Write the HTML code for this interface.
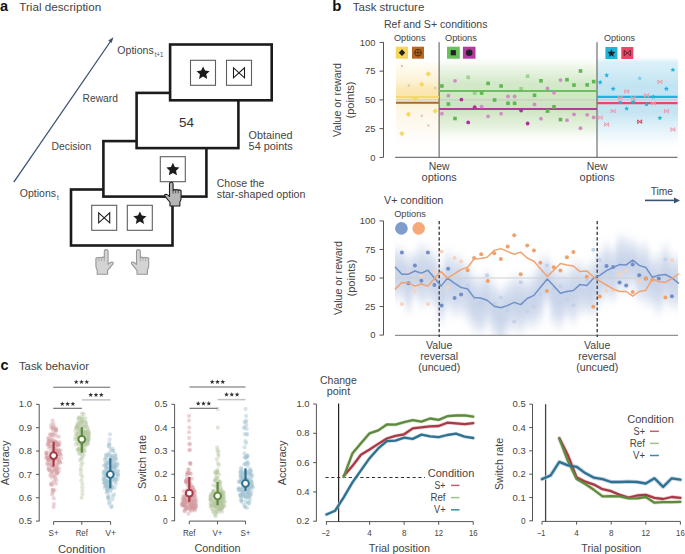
<!DOCTYPE html>
<html><head><meta charset="utf-8"><style>
html,body{margin:0;padding:0;background:#fff;}
svg{display:block;}
text{font-family:"Liberation Sans", sans-serif;}
</style></head><body>
<svg width="685" height="554" viewBox="0 0 685 554">
<rect width="685" height="554" fill="#fff"/>
<text x="0" y="10.9" font-size="14.5" text-anchor="start" fill="#111" font-weight="bold" >a</text>
<text x="19.3" y="10.9" font-size="11.5" text-anchor="start" fill="#444444" font-weight="normal" textLength="81.9" lengthAdjust="spacingAndGlyphs" >Trial description</text>
<line x1="13.8" y1="182.2" x2="110.8" y2="41" stroke="#3b5472" stroke-width="1.3"/>
<polygon points="113.4,37.2 108.2,40.6 111.6,43.0" fill="#3b5472"/>
<text x="117.3" y="54.3" font-size="10.0" text-anchor="start" fill="#444444" font-weight="normal" textLength="36.4" lengthAdjust="spacingAndGlyphs" >Options</text>
<text x="154.8" y="57.0" font-size="6.4" text-anchor="start" fill="#444444" font-weight="normal" textLength="8.4" lengthAdjust="spacingAndGlyphs" >t+1</text>
<text x="82.6" y="102.2" font-size="10.0" text-anchor="start" fill="#444444" font-weight="normal" textLength="35.3" lengthAdjust="spacingAndGlyphs" >Reward</text>
<text x="51.6" y="149.8" font-size="10.0" text-anchor="start" fill="#444444" font-weight="normal" textLength="39.6" lengthAdjust="spacingAndGlyphs" >Decision</text>
<text x="19.8" y="196.9" font-size="10.0" text-anchor="start" fill="#444444" font-weight="normal" textLength="36.2" lengthAdjust="spacingAndGlyphs" >Options</text>
<text x="57.0" y="200.0" font-size="6.3" text-anchor="start" fill="#444444" font-weight="normal" >t</text>
<text x="248.6" y="138.7" font-size="10.0" text-anchor="start" fill="#444444" font-weight="normal" textLength="43.9" lengthAdjust="spacingAndGlyphs" >Obtained</text>
<text x="248.6" y="150.0" font-size="10.0" text-anchor="start" fill="#444444" font-weight="normal" textLength="44.2" lengthAdjust="spacingAndGlyphs" >54 points</text>
<text x="216.8" y="186.6" font-size="10.0" text-anchor="start" fill="#444444" font-weight="normal" textLength="47.6" lengthAdjust="spacingAndGlyphs" >Chose the</text>
<text x="216.8" y="197.6" font-size="10.0" text-anchor="start" fill="#444444" font-weight="normal" textLength="88.7" lengthAdjust="spacingAndGlyphs" >star-shaped option</text>
<rect x="71" y="189.5" width="101.5" height="56" fill="#fff" stroke="#1c1a1a" stroke-width="2.6"/>
<rect x="91.7" y="205.3" width="25" height="25" fill="#fff" stroke="#5e5e5e" stroke-width="1.1"/>
<path d="M98.7,212.8 L109.7,222.8 L109.7,212.8 L98.7,222.8 Z" fill="none" stroke="#1c1a1a" stroke-width="1.1" stroke-linejoin="miter"/>
<rect x="127.3" y="205.3" width="25" height="25" fill="#fff" stroke="#5e5e5e" stroke-width="1.1"/>
<polygon points="139.90,211.40 141.85,215.62 146.46,216.17 143.05,219.32 143.96,223.88 139.90,221.61 135.84,223.88 136.75,219.32 133.34,216.17 137.95,215.62" fill="#1c1a1a"/>
<rect x="103.4" y="141.1" width="103" height="55.5" fill="#fff" stroke="#1c1a1a" stroke-width="2.6"/>
<rect x="160.3" y="156.7" width="25" height="25" fill="#fff" stroke="#5e5e5e" stroke-width="1.1"/>
<polygon points="172.90,162.80 174.85,167.02 179.46,167.57 176.05,170.72 176.96,175.28 172.90,173.01 168.84,175.28 169.75,170.72 166.34,167.57 170.95,167.02" fill="#1c1a1a"/>
<rect x="136.6" y="92.9" width="101.8" height="55.2" fill="#fff" stroke="#1c1a1a" stroke-width="2.6"/>
<text x="186.5" y="127" font-size="13.6" text-anchor="middle" fill="#333" textLength="15" lengthAdjust="spacingAndGlyphs">54</text>
<rect x="170.1" y="44.5" width="101.6" height="55.8" fill="#fff" stroke="#1c1a1a" stroke-width="2.6"/>
<rect x="190.5" y="60.3" width="25" height="25" fill="#fff" stroke="#5e5e5e" stroke-width="1.1"/>
<polygon points="203.10,66.40 205.05,70.62 209.66,71.17 206.25,74.32 207.16,78.88 203.10,76.61 199.04,78.88 199.95,74.32 196.54,71.17 201.15,70.62" fill="#1c1a1a"/>
<rect x="226.5" y="60.3" width="25" height="25" fill="#fff" stroke="#5e5e5e" stroke-width="1.1"/>
<path d="M233.5,67.8 L244.5,77.8 L244.5,67.8 L233.5,77.8 Z" fill="none" stroke="#1c1a1a" stroke-width="1.1" stroke-linejoin="miter"/>
<g transform="translate(171.3,182.3) scale(0.95,0.96)"><path d="M-1.9,1.8 Q-1.9,0 0,0 Q1.9,0 1.9,1.8 L1.9,8.3 Q3.2,7.0 4.6,8.0 Q5.9,7.1 7.3,8.2 Q8.7,7.5 10.3,8.7 L10.3,16.5 Q10.3,18.5 9,20.5 L9,24.7 L-1.4,24.7 L-1.4,20.8 L-6.6,14.6 Q-7.8,12.6 -5.6,12.4 Q-3.8,12.6 -1.9,14.8 Z" fill="#b6b6b6" stroke="#1c1a1a" stroke-width="1.15" stroke-linejoin="round"/><path d="M1.9,8.3 V11.8 M4.6,8.0 V11.5 M7.3,8.2 V11.5" fill="none" stroke="#1c1a1a" stroke-width="0.69"/></g>
<g transform="translate(106.2,249.6) scale(-1,1)"><path d="M-1.9,1.8 Q-1.9,0 0,0 Q1.9,0 1.9,1.8 L1.9,8.3 Q3.2,7.0 4.6,8.0 Q5.9,7.1 7.3,8.2 Q8.7,7.5 10.3,8.7 L10.3,16.5 Q10.3,18.5 9,20.5 L9,24.7 L-1.4,24.7 L-1.4,20.8 L-6.6,14.6 Q-7.8,12.6 -5.6,12.4 Q-3.8,12.6 -1.9,14.8 Z" fill="#d4d4d4" stroke="#979797" stroke-width="1.1" stroke-linejoin="round"/><path d="M1.9,8.3 V11.8 M4.6,8.0 V11.5 M7.3,8.2 V11.5" fill="none" stroke="#979797" stroke-width="0.66"/></g>
<g transform="translate(138.4,249.6) scale(1,1)"><path d="M-1.9,1.8 Q-1.9,0 0,0 Q1.9,0 1.9,1.8 L1.9,8.3 Q3.2,7.0 4.6,8.0 Q5.9,7.1 7.3,8.2 Q8.7,7.5 10.3,8.7 L10.3,16.5 Q10.3,18.5 9,20.5 L9,24.7 L-1.4,24.7 L-1.4,20.8 L-6.6,14.6 Q-7.8,12.6 -5.6,12.4 Q-3.8,12.6 -1.9,14.8 Z" fill="#d4d4d4" stroke="#979797" stroke-width="1.1" stroke-linejoin="round"/><path d="M1.9,8.3 V11.8 M4.6,8.0 V11.5 M7.3,8.2 V11.5" fill="none" stroke="#979797" stroke-width="0.66"/></g>
<text x="332.2" y="11.2" font-size="15" text-anchor="start" fill="#111" font-weight="bold" >b</text>
<text x="352.8" y="11.2" font-size="11.5" text-anchor="start" fill="#444444" font-weight="normal" textLength="71.5" lengthAdjust="spacingAndGlyphs" >Task structure</text>
<text x="384" y="27.8" font-size="10.0" text-anchor="start" fill="#444444" font-weight="normal" textLength="103.5" lengthAdjust="spacingAndGlyphs" >Ref and S+ conditions</text>
<defs>
<linearGradient id="gy" gradientUnits="userSpaceOnUse" x1="0" y1="60" x2="0" y2="156">
 <stop offset="0" stop-color="#fefbf2" stop-opacity="0"/>
 <stop offset="0.04" stop-color="#fefbf2" stop-opacity="0.9"/>
 <stop offset="0.21" stop-color="#fcf3d8" stop-opacity="1"/>
 <stop offset="0.31" stop-color="#f9e8b4" stop-opacity="1"/>
 <stop offset="0.39" stop-color="#f9e6ae" stop-opacity="1"/>
 <stop offset="0.43" stop-color="#fbefcc" stop-opacity="1"/>
 <stop offset="0.52" stop-color="#fdf6e6" stop-opacity="1"/>
 <stop offset="0.73" stop-color="#fefaf2" stop-opacity="0.9"/>
 <stop offset="1" stop-color="#fff" stop-opacity="0"/>
</linearGradient>
<linearGradient id="gg" gradientUnits="userSpaceOnUse" x1="0" y1="58" x2="0" y2="146">
 <stop offset="0" stop-color="#eef6ea" stop-opacity="0"/>
 <stop offset="0.10" stop-color="#e6f2e0" stop-opacity="0.7"/>
 <stop offset="0.28" stop-color="#d4e9c9" stop-opacity="1"/>
 <stop offset="0.58" stop-color="#cde4c0" stop-opacity="1"/>
 <stop offset="0.80" stop-color="#e2f0da" stop-opacity="0.8"/>
 <stop offset="1" stop-color="#fff" stop-opacity="0"/>
</linearGradient>
<linearGradient id="gb" gradientUnits="userSpaceOnUse" x1="0" y1="57" x2="0" y2="152">
 <stop offset="0" stop-color="#e6f4fa" stop-opacity="0"/>
 <stop offset="0.05" stop-color="#d8eff8" stop-opacity="0.9"/>
 <stop offset="0.30" stop-color="#c2e4f2" stop-opacity="1"/>
 <stop offset="0.58" stop-color="#c4e4f2" stop-opacity="1"/>
 <stop offset="0.82" stop-color="#e3f3fa" stop-opacity="0.7"/>
 <stop offset="1" stop-color="#fff" stop-opacity="0"/>
</linearGradient>
<filter id="blur4" x="-20%" y="-50%" width="140%" height="200%"><feGaussianBlur stdDeviation="4 7"/></filter>
</defs>
<rect x="396" y="60" width="43" height="96" fill="url(#gy)"/>
<rect x="439" y="58" width="158" height="88" fill="url(#gg)"/>
<rect x="597" y="57" width="81" height="95" fill="url(#gb)"/>
<line x1="396" y1="99.9" x2="677.5" y2="99.9" stroke="#c8c8c8" stroke-width="1" />
<line x1="383.5" y1="42.1" x2="383.5" y2="157.4" stroke="#555" stroke-width="1" />
<line x1="379.5" y1="42.40000000000002" x2="383.5" y2="42.40000000000002" stroke="#555" stroke-width="1" />
<text x="375.5" y="45.60000000000002" font-size="9.4" text-anchor="end" fill="#444444" font-weight="normal" >100</text>
<line x1="379.5" y1="71.15" x2="383.5" y2="71.15" stroke="#555" stroke-width="1" />
<text x="375.5" y="74.35000000000001" font-size="9.4" text-anchor="end" fill="#444444" font-weight="normal" >75</text>
<line x1="379.5" y1="99.9" x2="383.5" y2="99.9" stroke="#555" stroke-width="1" />
<text x="375.5" y="103.10000000000001" font-size="9.4" text-anchor="end" fill="#444444" font-weight="normal" >50</text>
<line x1="379.5" y1="128.65" x2="383.5" y2="128.65" stroke="#555" stroke-width="1" />
<text x="375.5" y="131.85" font-size="9.4" text-anchor="end" fill="#444444" font-weight="normal" >25</text>
<line x1="379.5" y1="157.4" x2="383.5" y2="157.4" stroke="#555" stroke-width="1" />
<text x="375.5" y="160.6" font-size="9.4" text-anchor="end" fill="#444444" font-weight="normal" >0</text>
<line x1="395.1" y1="157.3" x2="677.5" y2="157.3" stroke="#555" stroke-width="1" />
<line x1="439.1" y1="42.2" x2="439.1" y2="157.3" stroke="#555" stroke-width="1" />
<line x1="597.0" y1="42.2" x2="597.0" y2="157.3" stroke="#555" stroke-width="1" />
<text x="394" y="40.8" font-size="8.6" text-anchor="start" fill="#444444" font-weight="normal" textLength="31.5" lengthAdjust="spacingAndGlyphs" >Options</text>
<text x="445" y="40.8" font-size="8.6" text-anchor="start" fill="#444444" font-weight="normal" textLength="31.9" lengthAdjust="spacingAndGlyphs" >Options</text>
<text x="603.9" y="40.9" font-size="8.6" text-anchor="start" fill="#444444" font-weight="normal" textLength="31.1" lengthAdjust="spacingAndGlyphs" >Options</text>
<rect x="395.8" y="46.7" width="12.3" height="12" fill="#f5d55a"/>
<polygon points="402,49.3 405.2,52.7 402,56.1 398.8,52.7" fill="#222"/>
<rect x="412" y="46.7" width="12" height="12" fill="#b8681e"/>
<circle cx="418" cy="52.7" r="3.4" fill="none" stroke="#4a2a10" stroke-width="0.9"/><path d="M414.6,52.7 H421.4 M418,49.3 V56.1" stroke="#4a2a10" stroke-width="0.9"/>
<rect x="447" y="46.7" width="12.8" height="12" fill="#6abf5e"/>
<rect x="450.7" y="50.1" width="5.2" height="5.2" fill="#222"/>
<rect x="462.9" y="46.7" width="12.6" height="12" fill="#b43aa0"/>
<circle cx="469.2" cy="52.7" r="3.3" fill="#222"/>
<rect x="605.4" y="47" width="12" height="12" fill="#1fb3d9"/>
<polygon points="611.40,49.10 612.51,51.77 615.39,52.00 613.20,53.88 613.87,56.70 611.40,55.19 608.93,56.70 609.60,53.88 607.41,52.00 610.29,51.77" fill="#222"/>
<rect x="621.3" y="47" width="12" height="12" fill="#e8476a"/>
<path d="M624.2,50.3 L630.4,55.7 L630.4,50.3 L624.2,55.7 Z" fill="none" stroke="#5a1b2a" stroke-width="0.9"/>
<line x1="396" y1="97" x2="439" y2="97" stroke="#f6d96e" stroke-width="2.0" />
<line x1="396" y1="102.8" x2="439" y2="102.8" stroke="#a8692c" stroke-width="2.0" />
<polygon points="428.3,71.3 431.0,74 428.3,76.7 425.6,74" fill="#f6d860" fill-opacity="1"/>
<polygon points="421.8,81.7 424.5,84.4 421.8,87.10000000000001 419.1,84.4" fill="#f6d860" fill-opacity="1"/>
<polygon points="415.3,95.8 418.0,98.5 415.3,101.2 412.6,98.5" fill="#f6d860" fill-opacity="1"/>
<polygon points="408.4,111.6 411.09999999999997,114.3 408.4,117.0 405.7,114.3" fill="#f6d860" fill-opacity="1"/>
<polygon points="435.2,108.3 437.9,111 435.2,113.7 432.5,111" fill="#f6d860" fill-opacity="1"/>
<polygon points="401.9,130.9 404.59999999999997,133.6 401.9,136.29999999999998 399.2,133.6" fill="#f6d860" fill-opacity="1"/>
<rect x="400.79999999999995" y="64.9" width="2.2" height="2.2" fill="#d9b59a" fill-opacity="0.7"/>
<rect x="407.7" y="84.4" width="2.2" height="2.2" fill="#d9b59a" fill-opacity="0.7"/>
<rect x="434.09999999999997" y="86.9" width="2.2" height="2.2" fill="#d9b59a" fill-opacity="0.7"/>
<rect x="420.7" y="114.7" width="2.2" height="2.2" fill="#d9b59a" fill-opacity="0.7"/>
<rect x="427.2" y="124.4" width="2.2" height="2.2" fill="#d9b59a" fill-opacity="0.7"/>
<line x1="439.1" y1="91" x2="597" y2="91" stroke="#6abf5e" stroke-width="2.2" />
<line x1="439.1" y1="109" x2="597" y2="109" stroke="#b43aa0" stroke-width="2.2" />
<rect x="440.09999999999997" y="84.2" width="3.6" height="3.6" fill="#5cb84f" fill-opacity="1"/>
<rect x="446.59999999999997" y="102.2" width="3.6" height="3.6" fill="#5cb84f" fill-opacity="1"/>
<rect x="453.2" y="116.7" width="3.6" height="3.6" fill="#5cb84f" fill-opacity="1"/>
<rect x="466.4" y="75.5" width="3.6" height="3.6" fill="#5cb84f" fill-opacity="0.5"/>
<rect x="472.9" y="91.2" width="3.6" height="3.6" fill="#5cb84f" fill-opacity="0.5"/>
<rect x="479.8" y="91.2" width="3.6" height="3.6" fill="#5cb84f" fill-opacity="1"/>
<rect x="486.3" y="81.60000000000001" width="3.6" height="3.6" fill="#5cb84f" fill-opacity="1"/>
<rect x="492.8" y="98.2" width="3.6" height="3.6" fill="#5cb84f" fill-opacity="1"/>
<rect x="499.3" y="84.2" width="3.6" height="3.6" fill="#5cb84f" fill-opacity="1"/>
<rect x="506.2" y="101.5" width="3.6" height="3.6" fill="#5cb84f" fill-opacity="1"/>
<rect x="512.8000000000001" y="101.5" width="3.6" height="3.6" fill="#5cb84f" fill-opacity="1"/>
<rect x="519.3000000000001" y="87.0" width="3.6" height="3.6" fill="#5cb84f" fill-opacity="0.5"/>
<rect x="525.8000000000001" y="74.4" width="3.6" height="3.6" fill="#5cb84f" fill-opacity="0.5"/>
<rect x="532.7" y="93.5" width="3.6" height="3.6" fill="#5cb84f" fill-opacity="1"/>
<rect x="539.2" y="79.0" width="3.6" height="3.6" fill="#5cb84f" fill-opacity="1"/>
<rect x="545.7" y="109.3" width="3.6" height="3.6" fill="#5cb84f" fill-opacity="1"/>
<rect x="552.2" y="105.0" width="3.6" height="3.6" fill="#5cb84f" fill-opacity="1"/>
<rect x="558.7" y="117.8" width="3.6" height="3.6" fill="#5cb84f" fill-opacity="1"/>
<rect x="565.2" y="77.9" width="3.6" height="3.6" fill="#5cb84f" fill-opacity="1"/>
<rect x="572.2" y="83.3" width="3.6" height="3.6" fill="#5cb84f" fill-opacity="1"/>
<rect x="578.7" y="69.2" width="3.6" height="3.6" fill="#5cb84f" fill-opacity="1"/>
<rect x="585.4000000000001" y="83.10000000000001" width="3.6" height="3.6" fill="#5cb84f" fill-opacity="1"/>
<rect x="591.9000000000001" y="79.8" width="3.6" height="3.6" fill="#5cb84f" fill-opacity="1"/>
<circle cx="441.9" cy="113.7" r="1.9" fill="#cf8ec3"/>
<circle cx="448.4" cy="95.7" r="1.9" fill="#cf8ec3"/>
<circle cx="455" cy="80.8" r="1.9" fill="#cf8ec3"/>
<circle cx="461.4" cy="99.6" r="1.9" fill="#b0309a"/>
<circle cx="468.2" cy="122.4" r="1.9" fill="#b0309a"/>
<circle cx="474.7" cy="107.2" r="1.9" fill="#b0309a"/>
<circle cx="481.6" cy="106.6" r="1.9" fill="#cf8ec3"/>
<circle cx="488.1" cy="116.3" r="1.9" fill="#cf8ec3"/>
<circle cx="501.1" cy="113.7" r="1.9" fill="#cf8ec3"/>
<circle cx="508" cy="96.4" r="1.9" fill="#cf8ec3"/>
<circle cx="514.6" cy="96.4" r="1.9" fill="#cf8ec3"/>
<circle cx="521.1" cy="110.5" r="1.9" fill="#b0309a"/>
<circle cx="527.6" cy="123.5" r="1.9" fill="#b0309a"/>
<circle cx="534.5" cy="104.4" r="1.9" fill="#cf8ec3"/>
<circle cx="541" cy="118.7" r="1.9" fill="#cf8ec3"/>
<circle cx="547.5" cy="88.4" r="1.9" fill="#cf8ec3"/>
<circle cx="554" cy="92.7" r="1.9" fill="#cf8ec3"/>
<circle cx="560.5" cy="80.1" r="1.9" fill="#cf8ec3"/>
<circle cx="567" cy="120.2" r="1.9" fill="#cf8ec3"/>
<circle cx="574" cy="114.4" r="1.9" fill="#cf8ec3"/>
<circle cx="580.5" cy="128.2" r="1.9" fill="#cf8ec3"/>
<circle cx="587.2" cy="114.8" r="1.9" fill="#cf8ec3"/>
<circle cx="593.7" cy="117.4" r="1.9" fill="#cf8ec3"/>
<line x1="597" y1="96.8" x2="677.5" y2="96.8" stroke="#1fb3d9" stroke-width="2.2" />
<line x1="597" y1="103.1" x2="677.5" y2="103.1" stroke="#e8476a" stroke-width="2.2" />
<polygon points="600.20,79.70 600.89,81.35 602.67,81.50 601.31,82.66 601.73,84.40 600.20,83.47 598.67,84.40 599.09,82.66 597.73,81.50 599.51,81.35" fill="#1fb3d9" fill-opacity="1"/>
<polygon points="606.70,72.70 607.39,74.35 609.17,74.50 607.81,75.66 608.23,77.40 606.70,76.47 605.17,77.40 605.59,75.66 604.23,74.50 606.01,74.35" fill="#1fb3d9" fill-opacity="1"/>
<polygon points="613.20,86.20 613.89,87.85 615.67,88.00 614.31,89.16 614.73,90.90 613.20,89.97 611.67,90.90 612.09,89.16 610.73,88.00 612.51,87.85" fill="#1fb3d9" fill-opacity="1"/>
<polygon points="620.20,99.80 620.89,101.45 622.67,101.60 621.31,102.76 621.73,104.50 620.20,103.57 618.67,104.50 619.09,102.76 617.73,101.60 619.51,101.45" fill="#1fb3d9" fill-opacity="1"/>
<polygon points="626.70,106.10 627.39,107.75 629.17,107.90 627.81,109.06 628.23,110.80 626.70,109.87 625.17,110.80 625.59,109.06 624.23,107.90 626.01,107.75" fill="#1fb3d9" fill-opacity="1"/>
<polygon points="633.20,99.20 633.89,100.85 635.67,101.00 634.31,102.16 634.73,103.90 633.20,102.97 631.67,103.90 632.09,102.16 630.73,101.00 632.51,100.85" fill="#1fb3d9" fill-opacity="1"/>
<polygon points="639.70,75.80 640.39,77.45 642.17,77.60 640.81,78.76 641.23,80.50 639.70,79.57 638.17,80.50 638.59,78.76 637.23,77.60 639.01,77.45" fill="#1fb3d9" fill-opacity="0.5"/>
<polygon points="646.60,101.80 647.29,103.45 649.07,103.60 647.71,104.76 648.13,106.50 646.60,105.57 645.07,106.50 645.49,104.76 644.13,103.60 645.91,103.45" fill="#1fb3d9" fill-opacity="1"/>
<polygon points="653.30,94.20 653.99,95.85 655.77,96.00 654.41,97.16 654.83,98.90 653.30,97.97 651.77,98.90 652.19,97.16 650.83,96.00 652.61,95.85" fill="#1fb3d9" fill-opacity="1"/>
<polygon points="659.90,115.40 660.59,117.05 662.37,117.20 661.01,118.36 661.43,120.10 659.90,119.17 658.37,120.10 658.79,118.36 657.43,117.20 659.21,117.05" fill="#1fb3d9" fill-opacity="1"/>
<polygon points="666.40,86.20 667.09,87.85 668.87,88.00 667.51,89.16 667.93,90.90 666.40,89.97 664.87,90.90 665.29,89.16 663.93,88.00 665.71,87.85" fill="#1fb3d9" fill-opacity="1"/>
<polygon points="672.90,67.30 673.59,68.95 675.37,69.10 674.01,70.26 674.43,72.00 672.90,71.07 671.37,72.00 671.79,70.26 670.43,69.10 672.21,68.95" fill="#1fb3d9" fill-opacity="1"/>
<path d="M598.2,115.8 L602.2,119.39999999999999 L602.2,115.8 L598.2,119.39999999999999 Z" fill="none" stroke="#ef9aaa" stroke-width="1"/>
<path d="M604.7,122.7 L608.7,126.3 L608.7,122.7 L604.7,126.3 Z" fill="none" stroke="#ef9aaa" stroke-width="1"/>
<path d="M611.2,109.3 L615.2,112.89999999999999 L615.2,109.3 L611.2,112.89999999999999 Z" fill="none" stroke="#ef9aaa" stroke-width="1"/>
<path d="M624.7,89.60000000000001 L628.7,93.2 L628.7,89.60000000000001 L624.7,93.2 Z" fill="none" stroke="#ef9aaa" stroke-width="1"/>
<path d="M618.2,96.10000000000001 L622.2,99.7 L622.2,96.10000000000001 L618.2,99.7 Z" fill="none" stroke="#ef9aaa" stroke-width="1"/>
<path d="M631.2,96.3 L635.2,99.89999999999999 L635.2,96.3 L631.2,99.89999999999999 Z" fill="none" stroke="#ef9aaa" stroke-width="1"/>
<path d="M637.7,119.9 L641.7,123.5 L641.7,119.9 L637.7,123.5 Z" fill="none" stroke="#e03a5e" stroke-width="1"/>
<path d="M644.6,93.5 L648.6,97.1 L648.6,93.5 L644.6,97.1 Z" fill="none" stroke="#ef9aaa" stroke-width="1"/>
<path d="M651.3,101.5 L655.3,105.1 L655.3,101.5 L651.3,105.1 Z" fill="none" stroke="#ef9aaa" stroke-width="1"/>
<path d="M657.9,80.0 L661.9,83.6 L661.9,80.0 L657.9,83.6 Z" fill="none" stroke="#ef9aaa" stroke-width="1"/>
<path d="M664.4,109.3 L668.4,112.89999999999999 L668.4,109.3 L664.4,112.89999999999999 Z" fill="none" stroke="#ef9aaa" stroke-width="1"/>
<path d="M670.9,127.7 L674.9,131.3 L674.9,127.7 L670.9,131.3 Z" fill="none" stroke="#ef9aaa" stroke-width="1"/>
<text transform="translate(341.2,100) rotate(-90)" font-size="10.0" text-anchor="middle" fill="#444444" textLength="74" lengthAdjust="spacingAndGlyphs">Value or reward</text>
<text transform="translate(354.2,100) rotate(-90)" font-size="10.0" text-anchor="middle" fill="#444444" textLength="37" lengthAdjust="spacingAndGlyphs">(points)</text>
<text x="439.2" y="169.9" font-size="10.0" text-anchor="middle" fill="#444444" font-weight="normal" textLength="20.8" lengthAdjust="spacingAndGlyphs" >New</text>
<text x="439.2" y="180.9" font-size="10.0" text-anchor="middle" fill="#444444" font-weight="normal" textLength="35.2" lengthAdjust="spacingAndGlyphs" >options</text>
<text x="597.2" y="169.9" font-size="10.0" text-anchor="middle" fill="#444444" font-weight="normal" textLength="20.8" lengthAdjust="spacingAndGlyphs" >New</text>
<text x="597.2" y="180.9" font-size="10.0" text-anchor="middle" fill="#444444" font-weight="normal" textLength="35.2" lengthAdjust="spacingAndGlyphs" >options</text>
<text x="650.7" y="195" font-size="10.0" text-anchor="start" fill="#444444" font-weight="normal" textLength="22.3" lengthAdjust="spacingAndGlyphs" >Time</text>
<line x1="645" y1="200.4" x2="675" y2="200.4" stroke="#3b5472" stroke-width="1.6"/><polygon points="680,200.4 674,197.4 674,203.4" fill="#3b5472"/>
<text x="384.1" y="203.8" font-size="10.0" text-anchor="start" fill="#444444" font-weight="normal" textLength="59.2" lengthAdjust="spacingAndGlyphs" >V+ condition</text>
<text x="394.2" y="217" font-size="8.8" text-anchor="start" fill="#444444" font-weight="normal" textLength="31.8" lengthAdjust="spacingAndGlyphs" >Options</text>
<circle cx="401.4" cy="228.4" r="6.3" fill="#7f9ccc"/>
<circle cx="418.7" cy="228.4" r="6.3" fill="#f3aa78"/>
<defs><linearGradient id="colg" x1="0" y1="0" x2="0" y2="1"><stop offset="0" stop-color="#aebfdf" stop-opacity="0"/><stop offset="0.25" stop-color="#aebfdf" stop-opacity="0.5"/><stop offset="0.5" stop-color="#aebfdf" stop-opacity="0.7"/><stop offset="0.75" stop-color="#aebfdf" stop-opacity="0.5"/><stop offset="1" stop-color="#aebfdf" stop-opacity="0"/></linearGradient><filter id="colblur" x="-10%" y="-10%" width="120%" height="120%"><feGaussianBlur stdDeviation="2.8 3.5"/></filter></defs>
<g clip-path="url(#clipb)" filter="url(#colblur)">
<rect x="392.0" y="242.8" width="6.8" height="61.5" fill="url(#colg)"/>
<rect x="398.5" y="244.0" width="6.8" height="60.6" fill="url(#colg)"/>
<rect x="405.0" y="249.4" width="6.8" height="67.8" fill="url(#colg)"/>
<rect x="411.5" y="247.2" width="6.8" height="55.7" fill="url(#colg)"/>
<rect x="418.0" y="238.7" width="6.8" height="73.1" fill="url(#colg)"/>
<rect x="424.5" y="242.9" width="6.8" height="64.6" fill="url(#colg)"/>
<rect x="431.0" y="247.1" width="6.8" height="64.8" fill="url(#colg)"/>
<rect x="437.6" y="261.4" width="6.8" height="65.7" fill="url(#colg)"/>
<rect x="444.1" y="247.1" width="6.8" height="68.2" fill="url(#colg)"/>
<rect x="450.6" y="250.1" width="6.8" height="70.5" fill="url(#colg)"/>
<rect x="457.1" y="252.4" width="6.8" height="67.6" fill="url(#colg)"/>
<rect x="464.2" y="259.4" width="6.8" height="66.4" fill="url(#colg)"/>
<rect x="470.7" y="270.4" width="6.8" height="65.5" fill="url(#colg)"/>
<rect x="477.2" y="272.2" width="6.8" height="67.1" fill="url(#colg)"/>
<rect x="483.7" y="266.8" width="6.8" height="65.2" fill="url(#colg)"/>
<rect x="490.9" y="277.7" width="6.8" height="62.5" fill="url(#colg)"/>
<rect x="497.4" y="283.8" width="6.8" height="66.5" fill="url(#colg)"/>
<rect x="503.9" y="277.4" width="6.8" height="60.2" fill="url(#colg)"/>
<rect x="510.8" y="271.3" width="6.8" height="63.9" fill="url(#colg)"/>
<rect x="517.3" y="270.8" width="6.8" height="66.9" fill="url(#colg)"/>
<rect x="523.8" y="275.1" width="6.8" height="56.2" fill="url(#colg)"/>
<rect x="530.5" y="268.3" width="6.8" height="63.7" fill="url(#colg)"/>
<rect x="537.0" y="253.3" width="6.8" height="73.6" fill="url(#colg)"/>
<rect x="543.9" y="251.9" width="6.8" height="57.3" fill="url(#colg)"/>
<rect x="550.4" y="261.2" width="6.8" height="68.9" fill="url(#colg)"/>
<rect x="557.0" y="264.8" width="6.8" height="68.2" fill="url(#colg)"/>
<rect x="563.5" y="267.8" width="6.8" height="54.1" fill="url(#colg)"/>
<rect x="570.0" y="257.3" width="6.8" height="71.4" fill="url(#colg)"/>
<rect x="576.5" y="257.9" width="6.8" height="61.1" fill="url(#colg)"/>
<rect x="583.4" y="261.4" width="6.8" height="56.5" fill="url(#colg)"/>
<rect x="589.9" y="255.2" width="6.8" height="65.0" fill="url(#colg)"/>
<rect x="596.4" y="246.7" width="6.8" height="60.4" fill="url(#colg)"/>
<rect x="603.1" y="238.7" width="6.8" height="64.6" fill="url(#colg)"/>
<rect x="609.7" y="243.8" width="6.8" height="62.1" fill="url(#colg)"/>
<rect x="616.2" y="230.9" width="6.8" height="64.1" fill="url(#colg)"/>
<rect x="622.8" y="232.2" width="6.8" height="65.3" fill="url(#colg)"/>
<rect x="629.3" y="236.1" width="6.8" height="54.4" fill="url(#colg)"/>
<rect x="635.8" y="238.9" width="6.8" height="66.7" fill="url(#colg)"/>
<rect x="642.4" y="238.6" width="6.8" height="70.9" fill="url(#colg)"/>
<rect x="648.9" y="251.6" width="6.8" height="60.0" fill="url(#colg)"/>
<rect x="655.4" y="249.2" width="6.8" height="69.8" fill="url(#colg)"/>
<rect x="662.0" y="240.2" width="6.8" height="69.1" fill="url(#colg)"/>
<rect x="668.5" y="249.7" width="6.8" height="62.6" fill="url(#colg)"/>
<rect x="675.1" y="251.2" width="6.8" height="62.5" fill="url(#colg)"/>
</g>
<defs><clipPath id="clipb"><rect x="395" y="222" width="283" height="113"/></clipPath></defs>
<line x1="395" y1="278.0" x2="678" y2="278.0" stroke="#cfcfcf" stroke-width="1.2" />
<line x1="383.5" y1="220.9" x2="383.5" y2="335.1" stroke="#555" stroke-width="1" />
<line x1="379.5" y1="220.90000000000003" x2="383.5" y2="220.90000000000003" stroke="#555" stroke-width="1" />
<text x="375.5" y="224.10000000000002" font-size="9.4" text-anchor="end" fill="#444444" font-weight="normal" >100</text>
<line x1="379.5" y1="249.45000000000005" x2="383.5" y2="249.45000000000005" stroke="#555" stroke-width="1" />
<text x="375.5" y="252.65000000000003" font-size="9.4" text-anchor="end" fill="#444444" font-weight="normal" >75</text>
<line x1="379.5" y1="278.0" x2="383.5" y2="278.0" stroke="#555" stroke-width="1" />
<text x="375.5" y="281.2" font-size="9.4" text-anchor="end" fill="#444444" font-weight="normal" >50</text>
<line x1="379.5" y1="306.55" x2="383.5" y2="306.55" stroke="#555" stroke-width="1" />
<text x="375.5" y="309.75" font-size="9.4" text-anchor="end" fill="#444444" font-weight="normal" >25</text>
<line x1="379.5" y1="335.1" x2="383.5" y2="335.1" stroke="#555" stroke-width="1" />
<text x="375.5" y="338.3" font-size="9.4" text-anchor="end" fill="#444444" font-weight="normal" >0</text>
<line x1="395" y1="335.3" x2="678" y2="335.3" stroke="#777" stroke-width="1" />
<line x1="439.2" y1="221" x2="439.2" y2="337" stroke="#333" stroke-width="1.3" stroke-dasharray="3.2,2.2"/>
<line x1="597.2" y1="221" x2="597.2" y2="337" stroke="#333" stroke-width="1.3" stroke-dasharray="3.2,2.2"/>
<circle cx="401.9" cy="252.5" r="2" fill="#6f8fc6"/>
<circle cx="408.4" cy="283.3" r="2" fill="#6f8fc6"/>
<circle cx="414.9" cy="265.5" r="2" fill="#6f8fc6"/>
<circle cx="421.4" cy="280.7" r="2" fill="#6f8fc6"/>
<circle cx="427.9" cy="252.5" r="2" fill="#6f8fc6"/>
<circle cx="434.4" cy="285" r="2" fill="#6f8fc6"/>
<circle cx="441.6" cy="305.6" r="2" fill="#6f8fc6"/>
<circle cx="448.1" cy="268.8" r="2" fill="#6f8fc6"/>
<circle cx="454.6" cy="298" r="2" fill="#6f8fc6"/>
<circle cx="461.1" cy="294.4" r="2" fill="#6f8fc6"/>
<circle cx="467.6" cy="285.7" r="2" fill="#c5d1e8"/>
<circle cx="474.1" cy="299.1" r="2" fill="#c5d1e8"/>
<circle cx="480.6" cy="302.4" r="2" fill="#c5d1e8"/>
<circle cx="487.1" cy="275.3" r="2" fill="#c5d1e8"/>
<circle cx="494.3" cy="303.5" r="2" fill="#c5d1e8"/>
<circle cx="500.8" cy="297.6" r="2" fill="#c5d1e8"/>
<circle cx="507.3" cy="310.6" r="2" fill="#c5d1e8"/>
<circle cx="514.2" cy="321.5" r="2" fill="#c5d1e8"/>
<circle cx="520.7" cy="282.2" r="2" fill="#c5d1e8"/>
<circle cx="527.2" cy="311.5" r="2" fill="#c5d1e8"/>
<circle cx="533.7" cy="306.7" r="2" fill="#c5d1e8"/>
<circle cx="540.4" cy="294.1" r="2" fill="#c5d1e8"/>
<circle cx="546.9" cy="265.5" r="2" fill="#c5d1e8"/>
<circle cx="553.8" cy="288.9" r="2" fill="#c5d1e8"/>
<circle cx="560.4" cy="286.6" r="2" fill="#c5d1e8"/>
<circle cx="566.9" cy="299.8" r="2" fill="#c5d1e8"/>
<circle cx="573.4" cy="305" r="2" fill="#c5d1e8"/>
<circle cx="586.8" cy="280.3" r="2" fill="#c5d1e8"/>
<circle cx="593.3" cy="249.7" r="2" fill="#c5d1e8"/>
<circle cx="599.8" cy="260.1" r="2" fill="#c5d1e8"/>
<circle cx="606.5" cy="265.9" r="2" fill="#6f8fc6"/>
<circle cx="613.1" cy="267" r="2" fill="#6f8fc6"/>
<circle cx="619.6" cy="282.4" r="2" fill="#6f8fc6"/>
<circle cx="626.2" cy="285.5" r="2" fill="#6f8fc6"/>
<circle cx="632.7" cy="264.6" r="2" fill="#6f8fc6"/>
<circle cx="639.2" cy="275.3" r="2" fill="#6f8fc6"/>
<circle cx="645.8" cy="278.5" r="2" fill="#6f8fc6"/>
<circle cx="658.8" cy="278.5" r="2" fill="#6f8fc6"/>
<circle cx="665.4" cy="259.4" r="2" fill="#c5d1e8"/>
<circle cx="671.9" cy="296.2" r="2" fill="#6f8fc6"/>
<circle cx="401.9" cy="304.1" r="2" fill="#f8d3bb"/>
<circle cx="408.4" cy="273.1" r="2" fill="#f8d3bb"/>
<circle cx="414.9" cy="291.1" r="2" fill="#f8d3bb"/>
<circle cx="421.4" cy="275.9" r="2" fill="#f8d3bb"/>
<circle cx="427.9" cy="304.1" r="2" fill="#f8d3bb"/>
<circle cx="434.4" cy="271.6" r="2" fill="#f8d3bb"/>
<circle cx="441.6" cy="251.4" r="2" fill="#f8d3bb"/>
<circle cx="448.1" cy="287.6" r="2" fill="#f8d3bb"/>
<circle cx="454.6" cy="258" r="2" fill="#f8d3bb"/>
<circle cx="461.1" cy="261.6" r="2" fill="#f8d3bb"/>
<circle cx="467.6" cy="270.3" r="2" fill="#f0a06a"/>
<circle cx="474.1" cy="258" r="2" fill="#f0a06a"/>
<circle cx="481.2" cy="254.3" r="2" fill="#f0a06a"/>
<circle cx="487.8" cy="281.1" r="2" fill="#f0a06a"/>
<circle cx="494.3" cy="253.2" r="2" fill="#f0a06a"/>
<circle cx="500.8" cy="259" r="2" fill="#f0a06a"/>
<circle cx="507.7" cy="246.4" r="2" fill="#f0a06a"/>
<circle cx="514.2" cy="235.2" r="2" fill="#f0a06a"/>
<circle cx="520.7" cy="274.2" r="2" fill="#f0a06a"/>
<circle cx="527.2" cy="245.4" r="2" fill="#f0a06a"/>
<circle cx="533.9" cy="250.4" r="2" fill="#f0a06a"/>
<circle cx="540.4" cy="262.7" r="2" fill="#f0a06a"/>
<circle cx="546.9" cy="291.1" r="2" fill="#f0a06a"/>
<circle cx="553.8" cy="267.3" r="2" fill="#f0a06a"/>
<circle cx="560.4" cy="270.5" r="2" fill="#f0a06a"/>
<circle cx="566.9" cy="257.3" r="2" fill="#f0a06a"/>
<circle cx="573.4" cy="252.1" r="2" fill="#f0a06a"/>
<circle cx="586.8" cy="276.8" r="2" fill="#f0a06a"/>
<circle cx="593.3" cy="306.7" r="2" fill="#f0a06a"/>
<circle cx="599.8" cy="296.5" r="2" fill="#f0a06a"/>
<circle cx="606.5" cy="290.8" r="2" fill="#f8d3bb"/>
<circle cx="613.1" cy="290.2" r="2" fill="#f8d3bb"/>
<circle cx="619.6" cy="274" r="2" fill="#f8d3bb"/>
<circle cx="626.2" cy="271.1" r="2" fill="#f8d3bb"/>
<circle cx="632.7" cy="292.1" r="2" fill="#f0a06a"/>
<circle cx="639.2" cy="281.6" r="2" fill="#f8d3bb"/>
<circle cx="645.8" cy="278.5" r="2" fill="#f0a06a"/>
<circle cx="652.3" cy="279.8" r="2" fill="#f0a06a"/>
<circle cx="665.4" cy="297.6" r="2" fill="#f0a06a"/>
<circle cx="671.9" cy="260.2" r="2" fill="#f8d3bb"/>
<polyline points="395.40,267.30 401.90,274.20 408.40,274.20 414.90,271.00 421.40,273.10 427.90,270.30 434.40,278.10 441.00,286.10 447.50,278.10 454.00,282.90 460.50,287.20 467.60,289.00 474.10,297.60 480.60,298.00 487.10,300.20 494.30,306.30 500.80,307.80 507.30,305.60 514.20,302.40 520.70,304.60 527.20,298.50 533.90,295.40 540.40,287.20 547.30,279.00 553.80,286.10 560.40,293.30 566.90,291.50 573.40,290.50 579.90,284.60 586.80,285.50 593.30,278.50 599.80,275.30 606.50,270.60 613.10,267.50 619.60,264.60 626.20,264.90 632.70,260.20 639.20,265.40 645.80,267.50 652.30,277.20 658.80,275.30 665.40,274.50 671.90,277.90 678.50,283.20" fill="none" stroke="#7090c8" stroke-width="1.5" stroke-linejoin="round" stroke-linecap="round" />
<polyline points="395.40,288.90 401.90,282.40 408.40,282.90 414.90,286.10 421.40,284.00 427.90,286.10 434.40,278.50 441.00,271.60 447.50,278.10 454.00,274.20 460.50,269.90 467.60,267.30 474.10,259.00 480.60,258.60 487.10,257.30 494.30,250.40 500.80,248.60 507.30,251.40 514.20,254.30 520.70,252.10 527.20,258.00 533.90,261.20 540.40,268.80 547.30,276.40 553.80,270.30 560.40,263.40 566.90,265.10 573.40,266.00 579.90,271.60 586.80,270.90 593.30,276.80 599.80,281.10 606.50,285.00 613.10,288.90 619.60,291.50 626.20,291.50 632.70,296.20 639.20,291.50 645.80,290.20 652.30,279.00 658.80,281.60 665.40,282.40 671.90,278.50 678.50,274.00" fill="none" stroke="#f2a36f" stroke-width="1.5" stroke-linejoin="round" stroke-linecap="round" />
<text transform="translate(341.6,278) rotate(-90)" font-size="10.0" text-anchor="middle" fill="#444444" textLength="74" lengthAdjust="spacingAndGlyphs">Value or reward</text>
<text transform="translate(355,278) rotate(-90)" font-size="10.0" text-anchor="middle" fill="#444444" textLength="37" lengthAdjust="spacingAndGlyphs">(points)</text>
<text x="439.2" y="348.6" font-size="10.0" text-anchor="middle" fill="#444444" font-weight="normal" textLength="26.2" lengthAdjust="spacingAndGlyphs" >Value</text>
<text x="439.2" y="359.5" font-size="10.0" text-anchor="middle" fill="#444444" font-weight="normal" textLength="37.7" lengthAdjust="spacingAndGlyphs" >reversal</text>
<text x="439.2" y="370.5" font-size="10.0" text-anchor="middle" fill="#444444" font-weight="normal" textLength="42" lengthAdjust="spacingAndGlyphs" >(uncued)</text>
<text x="597.2" y="348.6" font-size="10.0" text-anchor="middle" fill="#444444" font-weight="normal" textLength="26.2" lengthAdjust="spacingAndGlyphs" >Value</text>
<text x="597.2" y="359.5" font-size="10.0" text-anchor="middle" fill="#444444" font-weight="normal" textLength="37.7" lengthAdjust="spacingAndGlyphs" >reversal</text>
<text x="597.2" y="370.5" font-size="10.0" text-anchor="middle" fill="#444444" font-weight="normal" textLength="42" lengthAdjust="spacingAndGlyphs" >(uncued)</text>
<text x="0.6" y="369.6" font-size="14.5" text-anchor="start" fill="#111" font-weight="bold" >c</text>
<text x="18.9" y="369.6" font-size="11.5" text-anchor="start" fill="#444444" font-weight="normal" textLength="70.1" lengthAdjust="spacingAndGlyphs" >Task behavior</text>
<line x1="39.2" y1="404.4" x2="39.2" y2="521.4" stroke="#555" stroke-width="1" />
<line x1="36.0" y1="404.35" x2="39.2" y2="404.35" stroke="#555" stroke-width="1" />
<text x="31.9" y="407.45000000000005" font-size="8.7" text-anchor="end" fill="#444444" font-weight="normal" textLength="13.1" lengthAdjust="spacingAndGlyphs" >1.0</text>
<line x1="36.0" y1="427.70000000000005" x2="39.2" y2="427.70000000000005" stroke="#555" stroke-width="1" />
<text x="31.9" y="430.80000000000007" font-size="8.7" text-anchor="end" fill="#444444" font-weight="normal" textLength="13.1" lengthAdjust="spacingAndGlyphs" >0.9</text>
<line x1="36.0" y1="451.05" x2="39.2" y2="451.05" stroke="#555" stroke-width="1" />
<text x="31.9" y="454.15000000000003" font-size="8.7" text-anchor="end" fill="#444444" font-weight="normal" textLength="13.1" lengthAdjust="spacingAndGlyphs" >0.8</text>
<line x1="36.0" y1="474.40000000000003" x2="39.2" y2="474.40000000000003" stroke="#555" stroke-width="1" />
<text x="31.9" y="477.50000000000006" font-size="8.7" text-anchor="end" fill="#444444" font-weight="normal" textLength="13.1" lengthAdjust="spacingAndGlyphs" >0.7</text>
<line x1="36.0" y1="497.75" x2="39.2" y2="497.75" stroke="#555" stroke-width="1" />
<text x="31.9" y="500.85" font-size="8.7" text-anchor="end" fill="#444444" font-weight="normal" textLength="13.1" lengthAdjust="spacingAndGlyphs" >0.6</text>
<line x1="36.0" y1="521.1" x2="39.2" y2="521.1" stroke="#555" stroke-width="1" />
<text x="31.9" y="524.2" font-size="8.7" text-anchor="end" fill="#444444" font-weight="normal" textLength="13.1" lengthAdjust="spacingAndGlyphs" >0.5</text>
<line x1="53.6" y1="521.6" x2="110.6" y2="521.6" stroke="#555" stroke-width="1" />
<line x1="53.6" y1="521.6" x2="53.6" y2="524.8" stroke="#555" stroke-width="1" />
<text x="53.6" y="535.9" font-size="8.7" text-anchor="middle" fill="#444444" font-weight="normal" textLength="10" lengthAdjust="spacingAndGlyphs" >S+</text>
<line x1="81.8" y1="521.6" x2="81.8" y2="524.8" stroke="#555" stroke-width="1" />
<text x="81.8" y="535.9" font-size="8.7" text-anchor="middle" fill="#444444" font-weight="normal" textLength="12.1" lengthAdjust="spacingAndGlyphs" >Ref</text>
<line x1="110.6" y1="521.6" x2="110.6" y2="524.8" stroke="#555" stroke-width="1" />
<text x="110.6" y="535.9" font-size="8.7" text-anchor="middle" fill="#444444" font-weight="normal" textLength="10.9" lengthAdjust="spacingAndGlyphs" >V+</text>
<text x="81.6" y="552.5" font-size="10.0" text-anchor="middle" fill="#444444" font-weight="normal" textLength="47.2" lengthAdjust="spacingAndGlyphs" >Condition</text>
<text transform="translate(9.2,463) rotate(-90)" font-size="10.0" text-anchor="middle" fill="#444444" textLength="44.7" lengthAdjust="spacingAndGlyphs">Accuracy</text>
<circle cx="53.60" cy="507.09" r="2.1" fill="#d49aa0" fill-opacity="0.42"/>
<circle cx="53.96" cy="504.08" r="2.1" fill="#d49aa0" fill-opacity="0.42"/>
<circle cx="53.82" cy="498.23" r="2.1" fill="#d49aa0" fill-opacity="0.42"/>
<circle cx="52.16" cy="494.46" r="2.1" fill="#d49aa0" fill-opacity="0.42"/>
<circle cx="52.82" cy="492.34" r="2.1" fill="#d49aa0" fill-opacity="0.42"/>
<circle cx="54.39" cy="490.27" r="2.1" fill="#d49aa0" fill-opacity="0.42"/>
<circle cx="53.01" cy="490.18" r="2.1" fill="#d49aa0" fill-opacity="0.42"/>
<circle cx="52.40" cy="489.93" r="2.1" fill="#d49aa0" fill-opacity="0.42"/>
<circle cx="51.09" cy="484.85" r="2.1" fill="#d49aa0" fill-opacity="0.42"/>
<circle cx="52.39" cy="484.64" r="2.1" fill="#d49aa0" fill-opacity="0.42"/>
<circle cx="55.90" cy="483.77" r="2.1" fill="#d49aa0" fill-opacity="0.42"/>
<circle cx="51.12" cy="483.25" r="2.1" fill="#d49aa0" fill-opacity="0.42"/>
<circle cx="53.93" cy="481.28" r="2.1" fill="#d49aa0" fill-opacity="0.42"/>
<circle cx="56.30" cy="480.13" r="2.1" fill="#d49aa0" fill-opacity="0.42"/>
<circle cx="55.11" cy="477.93" r="2.1" fill="#d49aa0" fill-opacity="0.42"/>
<circle cx="51.89" cy="477.36" r="2.1" fill="#d49aa0" fill-opacity="0.42"/>
<circle cx="54.82" cy="476.43" r="2.1" fill="#d49aa0" fill-opacity="0.42"/>
<circle cx="50.28" cy="475.41" r="2.1" fill="#d49aa0" fill-opacity="0.42"/>
<circle cx="53.59" cy="475.06" r="2.1" fill="#d49aa0" fill-opacity="0.42"/>
<circle cx="51.30" cy="473.43" r="2.1" fill="#d49aa0" fill-opacity="0.42"/>
<circle cx="57.26" cy="473.40" r="2.1" fill="#d49aa0" fill-opacity="0.42"/>
<circle cx="57.23" cy="473.03" r="2.1" fill="#d49aa0" fill-opacity="0.42"/>
<circle cx="56.21" cy="472.91" r="2.1" fill="#d49aa0" fill-opacity="0.42"/>
<circle cx="52.28" cy="471.69" r="2.1" fill="#d49aa0" fill-opacity="0.42"/>
<circle cx="56.78" cy="471.44" r="2.1" fill="#d49aa0" fill-opacity="0.42"/>
<circle cx="58.76" cy="471.36" r="2.1" fill="#d49aa0" fill-opacity="0.42"/>
<circle cx="52.16" cy="470.85" r="2.1" fill="#d49aa0" fill-opacity="0.42"/>
<circle cx="53.88" cy="470.77" r="2.1" fill="#d49aa0" fill-opacity="0.42"/>
<circle cx="49.84" cy="470.57" r="2.1" fill="#d49aa0" fill-opacity="0.42"/>
<circle cx="49.15" cy="470.08" r="2.1" fill="#d49aa0" fill-opacity="0.42"/>
<circle cx="56.14" cy="469.70" r="2.1" fill="#d49aa0" fill-opacity="0.42"/>
<circle cx="48.34" cy="468.80" r="2.1" fill="#d49aa0" fill-opacity="0.42"/>
<circle cx="54.82" cy="468.58" r="2.1" fill="#d49aa0" fill-opacity="0.42"/>
<circle cx="48.93" cy="468.57" r="2.1" fill="#d49aa0" fill-opacity="0.42"/>
<circle cx="55.64" cy="468.57" r="2.1" fill="#d49aa0" fill-opacity="0.42"/>
<circle cx="56.67" cy="468.47" r="2.1" fill="#d49aa0" fill-opacity="0.42"/>
<circle cx="58.98" cy="468.26" r="2.1" fill="#d49aa0" fill-opacity="0.42"/>
<circle cx="52.19" cy="466.84" r="2.1" fill="#d49aa0" fill-opacity="0.42"/>
<circle cx="52.16" cy="466.25" r="2.1" fill="#d49aa0" fill-opacity="0.42"/>
<circle cx="52.27" cy="465.75" r="2.1" fill="#d49aa0" fill-opacity="0.42"/>
<circle cx="56.37" cy="465.22" r="2.1" fill="#d49aa0" fill-opacity="0.42"/>
<circle cx="57.47" cy="465.21" r="2.1" fill="#d49aa0" fill-opacity="0.42"/>
<circle cx="48.40" cy="465.00" r="2.1" fill="#d49aa0" fill-opacity="0.42"/>
<circle cx="51.20" cy="464.50" r="2.1" fill="#d49aa0" fill-opacity="0.42"/>
<circle cx="47.48" cy="464.29" r="2.1" fill="#d49aa0" fill-opacity="0.42"/>
<circle cx="49.88" cy="463.40" r="2.1" fill="#d49aa0" fill-opacity="0.42"/>
<circle cx="56.89" cy="463.27" r="2.1" fill="#d49aa0" fill-opacity="0.42"/>
<circle cx="59.84" cy="462.58" r="2.1" fill="#d49aa0" fill-opacity="0.42"/>
<circle cx="60.47" cy="462.48" r="2.1" fill="#d49aa0" fill-opacity="0.42"/>
<circle cx="47.42" cy="462.48" r="2.1" fill="#d49aa0" fill-opacity="0.42"/>
<circle cx="52.19" cy="462.34" r="2.1" fill="#d49aa0" fill-opacity="0.42"/>
<circle cx="59.02" cy="461.40" r="2.1" fill="#d49aa0" fill-opacity="0.42"/>
<circle cx="53.67" cy="461.07" r="2.1" fill="#d49aa0" fill-opacity="0.42"/>
<circle cx="51.39" cy="460.73" r="2.1" fill="#d49aa0" fill-opacity="0.42"/>
<circle cx="57.76" cy="460.51" r="2.1" fill="#d49aa0" fill-opacity="0.42"/>
<circle cx="58.99" cy="460.18" r="2.1" fill="#d49aa0" fill-opacity="0.42"/>
<circle cx="48.35" cy="460.11" r="2.1" fill="#d49aa0" fill-opacity="0.42"/>
<circle cx="53.85" cy="459.90" r="2.1" fill="#d49aa0" fill-opacity="0.42"/>
<circle cx="48.35" cy="459.66" r="2.1" fill="#d49aa0" fill-opacity="0.42"/>
<circle cx="48.83" cy="459.48" r="2.1" fill="#d49aa0" fill-opacity="0.42"/>
<circle cx="54.06" cy="459.27" r="2.1" fill="#d49aa0" fill-opacity="0.42"/>
<circle cx="49.89" cy="458.86" r="2.1" fill="#d49aa0" fill-opacity="0.42"/>
<circle cx="58.18" cy="458.82" r="2.1" fill="#d49aa0" fill-opacity="0.42"/>
<circle cx="51.58" cy="458.81" r="2.1" fill="#d49aa0" fill-opacity="0.42"/>
<circle cx="48.81" cy="458.73" r="2.1" fill="#d49aa0" fill-opacity="0.42"/>
<circle cx="55.54" cy="458.61" r="2.1" fill="#d49aa0" fill-opacity="0.42"/>
<circle cx="50.02" cy="458.33" r="2.1" fill="#d49aa0" fill-opacity="0.42"/>
<circle cx="47.07" cy="458.31" r="2.1" fill="#d49aa0" fill-opacity="0.42"/>
<circle cx="61.12" cy="458.15" r="2.1" fill="#d49aa0" fill-opacity="0.42"/>
<circle cx="48.84" cy="458.05" r="2.1" fill="#d49aa0" fill-opacity="0.42"/>
<circle cx="48.04" cy="458.01" r="2.1" fill="#d49aa0" fill-opacity="0.42"/>
<circle cx="53.31" cy="457.92" r="2.1" fill="#d49aa0" fill-opacity="0.42"/>
<circle cx="46.11" cy="457.75" r="2.1" fill="#d49aa0" fill-opacity="0.42"/>
<circle cx="57.99" cy="456.49" r="2.1" fill="#d49aa0" fill-opacity="0.42"/>
<circle cx="47.14" cy="455.48" r="2.1" fill="#d49aa0" fill-opacity="0.42"/>
<circle cx="46.60" cy="454.93" r="2.1" fill="#d49aa0" fill-opacity="0.42"/>
<circle cx="60.68" cy="454.63" r="2.1" fill="#d49aa0" fill-opacity="0.42"/>
<circle cx="53.85" cy="454.39" r="2.1" fill="#d49aa0" fill-opacity="0.42"/>
<circle cx="60.11" cy="454.13" r="2.1" fill="#d49aa0" fill-opacity="0.42"/>
<circle cx="59.63" cy="454.09" r="2.1" fill="#d49aa0" fill-opacity="0.42"/>
<circle cx="57.15" cy="453.79" r="2.1" fill="#d49aa0" fill-opacity="0.42"/>
<circle cx="46.47" cy="453.48" r="2.1" fill="#d49aa0" fill-opacity="0.42"/>
<circle cx="55.77" cy="452.95" r="2.1" fill="#d49aa0" fill-opacity="0.42"/>
<circle cx="47.03" cy="452.60" r="2.1" fill="#d49aa0" fill-opacity="0.42"/>
<circle cx="46.22" cy="452.52" r="2.1" fill="#d49aa0" fill-opacity="0.42"/>
<circle cx="58.79" cy="452.20" r="2.1" fill="#d49aa0" fill-opacity="0.42"/>
<circle cx="50.69" cy="452.12" r="2.1" fill="#d49aa0" fill-opacity="0.42"/>
<circle cx="57.32" cy="451.83" r="2.1" fill="#d49aa0" fill-opacity="0.42"/>
<circle cx="54.05" cy="451.16" r="2.1" fill="#d49aa0" fill-opacity="0.42"/>
<circle cx="57.84" cy="450.78" r="2.1" fill="#d49aa0" fill-opacity="0.42"/>
<circle cx="55.68" cy="450.62" r="2.1" fill="#d49aa0" fill-opacity="0.42"/>
<circle cx="60.65" cy="450.62" r="2.1" fill="#d49aa0" fill-opacity="0.42"/>
<circle cx="53.22" cy="450.60" r="2.1" fill="#d49aa0" fill-opacity="0.42"/>
<circle cx="58.86" cy="450.54" r="2.1" fill="#d49aa0" fill-opacity="0.42"/>
<circle cx="58.36" cy="449.71" r="2.1" fill="#d49aa0" fill-opacity="0.42"/>
<circle cx="54.88" cy="449.42" r="2.1" fill="#d49aa0" fill-opacity="0.42"/>
<circle cx="53.69" cy="448.81" r="2.1" fill="#d49aa0" fill-opacity="0.42"/>
<circle cx="52.58" cy="448.73" r="2.1" fill="#d49aa0" fill-opacity="0.42"/>
<circle cx="55.73" cy="448.44" r="2.1" fill="#d49aa0" fill-opacity="0.42"/>
<circle cx="49.16" cy="448.34" r="2.1" fill="#d49aa0" fill-opacity="0.42"/>
<circle cx="52.74" cy="446.12" r="2.1" fill="#d49aa0" fill-opacity="0.42"/>
<circle cx="55.68" cy="446.11" r="2.1" fill="#d49aa0" fill-opacity="0.42"/>
<circle cx="50.88" cy="446.06" r="2.1" fill="#d49aa0" fill-opacity="0.42"/>
<circle cx="49.61" cy="445.95" r="2.1" fill="#d49aa0" fill-opacity="0.42"/>
<circle cx="48.11" cy="445.36" r="2.1" fill="#d49aa0" fill-opacity="0.42"/>
<circle cx="57.83" cy="445.22" r="2.1" fill="#d49aa0" fill-opacity="0.42"/>
<circle cx="58.81" cy="445.09" r="2.1" fill="#d49aa0" fill-opacity="0.42"/>
<circle cx="58.23" cy="445.04" r="2.1" fill="#d49aa0" fill-opacity="0.42"/>
<circle cx="56.46" cy="445.01" r="2.1" fill="#d49aa0" fill-opacity="0.42"/>
<circle cx="55.03" cy="444.48" r="2.1" fill="#d49aa0" fill-opacity="0.42"/>
<circle cx="47.56" cy="444.39" r="2.1" fill="#d49aa0" fill-opacity="0.42"/>
<circle cx="58.80" cy="444.35" r="2.1" fill="#d49aa0" fill-opacity="0.42"/>
<circle cx="53.24" cy="444.32" r="2.1" fill="#d49aa0" fill-opacity="0.42"/>
<circle cx="56.09" cy="443.33" r="2.1" fill="#d49aa0" fill-opacity="0.42"/>
<circle cx="48.59" cy="443.04" r="2.1" fill="#d49aa0" fill-opacity="0.42"/>
<circle cx="56.83" cy="442.82" r="2.1" fill="#d49aa0" fill-opacity="0.42"/>
<circle cx="49.00" cy="442.47" r="2.1" fill="#d49aa0" fill-opacity="0.42"/>
<circle cx="59.54" cy="442.28" r="2.1" fill="#d49aa0" fill-opacity="0.42"/>
<circle cx="56.32" cy="442.13" r="2.1" fill="#d49aa0" fill-opacity="0.42"/>
<circle cx="53.99" cy="441.56" r="2.1" fill="#d49aa0" fill-opacity="0.42"/>
<circle cx="55.54" cy="441.46" r="2.1" fill="#d49aa0" fill-opacity="0.42"/>
<circle cx="50.19" cy="441.37" r="2.1" fill="#d49aa0" fill-opacity="0.42"/>
<circle cx="53.59" cy="441.36" r="2.1" fill="#d49aa0" fill-opacity="0.42"/>
<circle cx="48.39" cy="441.29" r="2.1" fill="#d49aa0" fill-opacity="0.42"/>
<circle cx="50.83" cy="441.29" r="2.1" fill="#d49aa0" fill-opacity="0.42"/>
<circle cx="50.92" cy="441.11" r="2.1" fill="#d49aa0" fill-opacity="0.42"/>
<circle cx="49.54" cy="440.24" r="2.1" fill="#d49aa0" fill-opacity="0.42"/>
<circle cx="52.60" cy="439.65" r="2.1" fill="#d49aa0" fill-opacity="0.42"/>
<circle cx="48.52" cy="439.10" r="2.1" fill="#d49aa0" fill-opacity="0.42"/>
<circle cx="48.38" cy="437.78" r="2.1" fill="#d49aa0" fill-opacity="0.42"/>
<circle cx="51.82" cy="437.00" r="2.1" fill="#d49aa0" fill-opacity="0.42"/>
<circle cx="58.75" cy="436.67" r="2.1" fill="#d49aa0" fill-opacity="0.42"/>
<circle cx="55.89" cy="435.87" r="2.1" fill="#d49aa0" fill-opacity="0.42"/>
<circle cx="52.90" cy="435.09" r="2.1" fill="#d49aa0" fill-opacity="0.42"/>
<circle cx="50.74" cy="434.63" r="2.1" fill="#d49aa0" fill-opacity="0.42"/>
<circle cx="50.06" cy="434.30" r="2.1" fill="#d49aa0" fill-opacity="0.42"/>
<circle cx="52.83" cy="433.98" r="2.1" fill="#d49aa0" fill-opacity="0.42"/>
<circle cx="54.96" cy="433.30" r="2.1" fill="#d49aa0" fill-opacity="0.42"/>
<circle cx="56.09" cy="430.59" r="2.1" fill="#d49aa0" fill-opacity="0.42"/>
<circle cx="53.31" cy="430.56" r="2.1" fill="#d49aa0" fill-opacity="0.42"/>
<circle cx="56.18" cy="429.94" r="2.1" fill="#d49aa0" fill-opacity="0.42"/>
<circle cx="55.88" cy="429.93" r="2.1" fill="#d49aa0" fill-opacity="0.42"/>
<circle cx="55.92" cy="428.34" r="2.1" fill="#d49aa0" fill-opacity="0.42"/>
<circle cx="52.49" cy="428.31" r="2.1" fill="#d49aa0" fill-opacity="0.42"/>
<circle cx="53.38" cy="428.20" r="2.1" fill="#d49aa0" fill-opacity="0.42"/>
<circle cx="51.48" cy="427.48" r="2.1" fill="#d49aa0" fill-opacity="0.42"/>
<circle cx="54.10" cy="426.70" r="2.1" fill="#d49aa0" fill-opacity="0.42"/>
<circle cx="51.21" cy="425.10" r="2.1" fill="#d49aa0" fill-opacity="0.42"/>
<circle cx="53.46" cy="423.73" r="2.1" fill="#d49aa0" fill-opacity="0.42"/>
<circle cx="52.46" cy="420.69" r="2.1" fill="#d49aa0" fill-opacity="0.42"/>
<circle cx="81.67" cy="497.75" r="2.1" fill="#b4c6a0" fill-opacity="0.42"/>
<circle cx="82.42" cy="494.25" r="2.1" fill="#b4c6a0" fill-opacity="0.42"/>
<circle cx="82.48" cy="490.75" r="2.1" fill="#b4c6a0" fill-opacity="0.42"/>
<circle cx="82.25" cy="487.24" r="2.1" fill="#b4c6a0" fill-opacity="0.42"/>
<circle cx="82.30" cy="483.74" r="2.1" fill="#b4c6a0" fill-opacity="0.42"/>
<circle cx="81.47" cy="480.24" r="2.1" fill="#b4c6a0" fill-opacity="0.42"/>
<circle cx="82.28" cy="476.74" r="2.1" fill="#b4c6a0" fill-opacity="0.42"/>
<circle cx="80.94" cy="474.40" r="2.1" fill="#b4c6a0" fill-opacity="0.42"/>
<circle cx="80.81" cy="470.90" r="2.1" fill="#b4c6a0" fill-opacity="0.42"/>
<circle cx="80.84" cy="468.56" r="2.1" fill="#b4c6a0" fill-opacity="0.42"/>
<circle cx="81.32" cy="465.06" r="2.1" fill="#b4c6a0" fill-opacity="0.42"/>
<circle cx="82.51" cy="462.73" r="2.1" fill="#b4c6a0" fill-opacity="0.42"/>
<circle cx="80.05" cy="460.39" r="2.1" fill="#b4c6a0" fill-opacity="0.42"/>
<circle cx="81.29" cy="458.60" r="2.1" fill="#b4c6a0" fill-opacity="0.42"/>
<circle cx="82.25" cy="457.79" r="2.1" fill="#b4c6a0" fill-opacity="0.42"/>
<circle cx="83.82" cy="455.12" r="2.1" fill="#b4c6a0" fill-opacity="0.42"/>
<circle cx="82.19" cy="454.43" r="2.1" fill="#b4c6a0" fill-opacity="0.42"/>
<circle cx="80.17" cy="454.00" r="2.1" fill="#b4c6a0" fill-opacity="0.42"/>
<circle cx="79.01" cy="453.35" r="2.1" fill="#b4c6a0" fill-opacity="0.42"/>
<circle cx="81.85" cy="451.15" r="2.1" fill="#b4c6a0" fill-opacity="0.42"/>
<circle cx="84.30" cy="450.95" r="2.1" fill="#b4c6a0" fill-opacity="0.42"/>
<circle cx="84.55" cy="450.75" r="2.1" fill="#b4c6a0" fill-opacity="0.42"/>
<circle cx="82.80" cy="450.66" r="2.1" fill="#b4c6a0" fill-opacity="0.42"/>
<circle cx="79.11" cy="450.55" r="2.1" fill="#b4c6a0" fill-opacity="0.42"/>
<circle cx="78.05" cy="449.86" r="2.1" fill="#b4c6a0" fill-opacity="0.42"/>
<circle cx="77.69" cy="449.45" r="2.1" fill="#b4c6a0" fill-opacity="0.42"/>
<circle cx="79.69" cy="449.34" r="2.1" fill="#b4c6a0" fill-opacity="0.42"/>
<circle cx="82.11" cy="449.26" r="2.1" fill="#b4c6a0" fill-opacity="0.42"/>
<circle cx="78.47" cy="448.84" r="2.1" fill="#b4c6a0" fill-opacity="0.42"/>
<circle cx="82.98" cy="448.26" r="2.1" fill="#b4c6a0" fill-opacity="0.42"/>
<circle cx="79.89" cy="447.64" r="2.1" fill="#b4c6a0" fill-opacity="0.42"/>
<circle cx="84.91" cy="446.91" r="2.1" fill="#b4c6a0" fill-opacity="0.42"/>
<circle cx="82.16" cy="445.31" r="2.1" fill="#b4c6a0" fill-opacity="0.42"/>
<circle cx="85.01" cy="444.93" r="2.1" fill="#b4c6a0" fill-opacity="0.42"/>
<circle cx="78.84" cy="444.67" r="2.1" fill="#b4c6a0" fill-opacity="0.42"/>
<circle cx="82.65" cy="444.64" r="2.1" fill="#b4c6a0" fill-opacity="0.42"/>
<circle cx="86.55" cy="444.47" r="2.1" fill="#b4c6a0" fill-opacity="0.42"/>
<circle cx="75.85" cy="444.43" r="2.1" fill="#b4c6a0" fill-opacity="0.42"/>
<circle cx="87.19" cy="444.23" r="2.1" fill="#b4c6a0" fill-opacity="0.42"/>
<circle cx="82.94" cy="444.16" r="2.1" fill="#b4c6a0" fill-opacity="0.42"/>
<circle cx="88.19" cy="443.52" r="2.1" fill="#b4c6a0" fill-opacity="0.42"/>
<circle cx="79.01" cy="443.35" r="2.1" fill="#b4c6a0" fill-opacity="0.42"/>
<circle cx="81.66" cy="443.23" r="2.1" fill="#b4c6a0" fill-opacity="0.42"/>
<circle cx="84.21" cy="443.05" r="2.1" fill="#b4c6a0" fill-opacity="0.42"/>
<circle cx="83.06" cy="442.56" r="2.1" fill="#b4c6a0" fill-opacity="0.42"/>
<circle cx="83.45" cy="442.01" r="2.1" fill="#b4c6a0" fill-opacity="0.42"/>
<circle cx="86.81" cy="441.85" r="2.1" fill="#b4c6a0" fill-opacity="0.42"/>
<circle cx="77.14" cy="441.70" r="2.1" fill="#b4c6a0" fill-opacity="0.42"/>
<circle cx="84.82" cy="441.56" r="2.1" fill="#b4c6a0" fill-opacity="0.42"/>
<circle cx="81.04" cy="441.47" r="2.1" fill="#b4c6a0" fill-opacity="0.42"/>
<circle cx="87.57" cy="441.30" r="2.1" fill="#b4c6a0" fill-opacity="0.42"/>
<circle cx="88.10" cy="441.18" r="2.1" fill="#b4c6a0" fill-opacity="0.42"/>
<circle cx="81.01" cy="441.11" r="2.1" fill="#b4c6a0" fill-opacity="0.42"/>
<circle cx="79.76" cy="440.49" r="2.1" fill="#b4c6a0" fill-opacity="0.42"/>
<circle cx="87.58" cy="440.21" r="2.1" fill="#b4c6a0" fill-opacity="0.42"/>
<circle cx="88.24" cy="439.71" r="2.1" fill="#b4c6a0" fill-opacity="0.42"/>
<circle cx="85.79" cy="439.70" r="2.1" fill="#b4c6a0" fill-opacity="0.42"/>
<circle cx="87.73" cy="439.53" r="2.1" fill="#b4c6a0" fill-opacity="0.42"/>
<circle cx="88.38" cy="439.44" r="2.1" fill="#b4c6a0" fill-opacity="0.42"/>
<circle cx="81.58" cy="439.34" r="2.1" fill="#b4c6a0" fill-opacity="0.42"/>
<circle cx="79.73" cy="439.23" r="2.1" fill="#b4c6a0" fill-opacity="0.42"/>
<circle cx="75.26" cy="439.14" r="2.1" fill="#b4c6a0" fill-opacity="0.42"/>
<circle cx="80.89" cy="438.98" r="2.1" fill="#b4c6a0" fill-opacity="0.42"/>
<circle cx="77.61" cy="438.96" r="2.1" fill="#b4c6a0" fill-opacity="0.42"/>
<circle cx="85.15" cy="438.72" r="2.1" fill="#b4c6a0" fill-opacity="0.42"/>
<circle cx="83.47" cy="438.25" r="2.1" fill="#b4c6a0" fill-opacity="0.42"/>
<circle cx="88.34" cy="438.21" r="2.1" fill="#b4c6a0" fill-opacity="0.42"/>
<circle cx="84.64" cy="437.97" r="2.1" fill="#b4c6a0" fill-opacity="0.42"/>
<circle cx="78.03" cy="437.53" r="2.1" fill="#b4c6a0" fill-opacity="0.42"/>
<circle cx="79.90" cy="437.53" r="2.1" fill="#b4c6a0" fill-opacity="0.42"/>
<circle cx="81.81" cy="437.52" r="2.1" fill="#b4c6a0" fill-opacity="0.42"/>
<circle cx="82.35" cy="437.46" r="2.1" fill="#b4c6a0" fill-opacity="0.42"/>
<circle cx="88.47" cy="437.39" r="2.1" fill="#b4c6a0" fill-opacity="0.42"/>
<circle cx="83.81" cy="437.32" r="2.1" fill="#b4c6a0" fill-opacity="0.42"/>
<circle cx="79.17" cy="437.31" r="2.1" fill="#b4c6a0" fill-opacity="0.42"/>
<circle cx="78.40" cy="437.30" r="2.1" fill="#b4c6a0" fill-opacity="0.42"/>
<circle cx="82.95" cy="437.04" r="2.1" fill="#b4c6a0" fill-opacity="0.42"/>
<circle cx="75.51" cy="436.78" r="2.1" fill="#b4c6a0" fill-opacity="0.42"/>
<circle cx="81.17" cy="436.62" r="2.1" fill="#b4c6a0" fill-opacity="0.42"/>
<circle cx="87.82" cy="436.55" r="2.1" fill="#b4c6a0" fill-opacity="0.42"/>
<circle cx="88.15" cy="436.47" r="2.1" fill="#b4c6a0" fill-opacity="0.42"/>
<circle cx="82.72" cy="436.17" r="2.1" fill="#b4c6a0" fill-opacity="0.42"/>
<circle cx="82.48" cy="436.17" r="2.1" fill="#b4c6a0" fill-opacity="0.42"/>
<circle cx="79.24" cy="436.10" r="2.1" fill="#b4c6a0" fill-opacity="0.42"/>
<circle cx="83.15" cy="436.05" r="2.1" fill="#b4c6a0" fill-opacity="0.42"/>
<circle cx="81.15" cy="435.73" r="2.1" fill="#b4c6a0" fill-opacity="0.42"/>
<circle cx="84.06" cy="435.47" r="2.1" fill="#b4c6a0" fill-opacity="0.42"/>
<circle cx="88.67" cy="435.07" r="2.1" fill="#b4c6a0" fill-opacity="0.42"/>
<circle cx="85.64" cy="434.45" r="2.1" fill="#b4c6a0" fill-opacity="0.42"/>
<circle cx="76.34" cy="434.33" r="2.1" fill="#b4c6a0" fill-opacity="0.42"/>
<circle cx="76.87" cy="434.15" r="2.1" fill="#b4c6a0" fill-opacity="0.42"/>
<circle cx="84.66" cy="434.01" r="2.1" fill="#b4c6a0" fill-opacity="0.42"/>
<circle cx="88.91" cy="433.90" r="2.1" fill="#b4c6a0" fill-opacity="0.42"/>
<circle cx="83.27" cy="433.71" r="2.1" fill="#b4c6a0" fill-opacity="0.42"/>
<circle cx="86.83" cy="433.43" r="2.1" fill="#b4c6a0" fill-opacity="0.42"/>
<circle cx="78.51" cy="433.30" r="2.1" fill="#b4c6a0" fill-opacity="0.42"/>
<circle cx="77.99" cy="433.20" r="2.1" fill="#b4c6a0" fill-opacity="0.42"/>
<circle cx="88.96" cy="433.19" r="2.1" fill="#b4c6a0" fill-opacity="0.42"/>
<circle cx="87.39" cy="433.12" r="2.1" fill="#b4c6a0" fill-opacity="0.42"/>
<circle cx="81.06" cy="432.82" r="2.1" fill="#b4c6a0" fill-opacity="0.42"/>
<circle cx="86.44" cy="432.63" r="2.1" fill="#b4c6a0" fill-opacity="0.42"/>
<circle cx="83.88" cy="432.32" r="2.1" fill="#b4c6a0" fill-opacity="0.42"/>
<circle cx="85.89" cy="432.26" r="2.1" fill="#b4c6a0" fill-opacity="0.42"/>
<circle cx="83.08" cy="432.00" r="2.1" fill="#b4c6a0" fill-opacity="0.42"/>
<circle cx="84.45" cy="431.96" r="2.1" fill="#b4c6a0" fill-opacity="0.42"/>
<circle cx="88.09" cy="431.18" r="2.1" fill="#b4c6a0" fill-opacity="0.42"/>
<circle cx="80.81" cy="431.14" r="2.1" fill="#b4c6a0" fill-opacity="0.42"/>
<circle cx="85.14" cy="430.96" r="2.1" fill="#b4c6a0" fill-opacity="0.42"/>
<circle cx="88.29" cy="430.91" r="2.1" fill="#b4c6a0" fill-opacity="0.42"/>
<circle cx="75.37" cy="430.71" r="2.1" fill="#b4c6a0" fill-opacity="0.42"/>
<circle cx="78.33" cy="430.70" r="2.1" fill="#b4c6a0" fill-opacity="0.42"/>
<circle cx="79.83" cy="430.28" r="2.1" fill="#b4c6a0" fill-opacity="0.42"/>
<circle cx="82.82" cy="430.10" r="2.1" fill="#b4c6a0" fill-opacity="0.42"/>
<circle cx="81.19" cy="429.60" r="2.1" fill="#b4c6a0" fill-opacity="0.42"/>
<circle cx="87.58" cy="428.61" r="2.1" fill="#b4c6a0" fill-opacity="0.42"/>
<circle cx="77.83" cy="428.17" r="2.1" fill="#b4c6a0" fill-opacity="0.42"/>
<circle cx="79.33" cy="427.96" r="2.1" fill="#b4c6a0" fill-opacity="0.42"/>
<circle cx="76.42" cy="427.92" r="2.1" fill="#b4c6a0" fill-opacity="0.42"/>
<circle cx="77.72" cy="427.84" r="2.1" fill="#b4c6a0" fill-opacity="0.42"/>
<circle cx="82.99" cy="427.49" r="2.1" fill="#b4c6a0" fill-opacity="0.42"/>
<circle cx="76.27" cy="427.23" r="2.1" fill="#b4c6a0" fill-opacity="0.42"/>
<circle cx="87.15" cy="426.85" r="2.1" fill="#b4c6a0" fill-opacity="0.42"/>
<circle cx="84.93" cy="426.72" r="2.1" fill="#b4c6a0" fill-opacity="0.42"/>
<circle cx="76.84" cy="426.55" r="2.1" fill="#b4c6a0" fill-opacity="0.42"/>
<circle cx="85.26" cy="426.54" r="2.1" fill="#b4c6a0" fill-opacity="0.42"/>
<circle cx="77.37" cy="426.18" r="2.1" fill="#b4c6a0" fill-opacity="0.42"/>
<circle cx="82.00" cy="426.16" r="2.1" fill="#b4c6a0" fill-opacity="0.42"/>
<circle cx="78.52" cy="425.73" r="2.1" fill="#b4c6a0" fill-opacity="0.42"/>
<circle cx="78.13" cy="425.25" r="2.1" fill="#b4c6a0" fill-opacity="0.42"/>
<circle cx="82.17" cy="425.22" r="2.1" fill="#b4c6a0" fill-opacity="0.42"/>
<circle cx="85.98" cy="424.68" r="2.1" fill="#b4c6a0" fill-opacity="0.42"/>
<circle cx="77.53" cy="423.69" r="2.1" fill="#b4c6a0" fill-opacity="0.42"/>
<circle cx="78.86" cy="423.35" r="2.1" fill="#b4c6a0" fill-opacity="0.42"/>
<circle cx="81.66" cy="422.95" r="2.1" fill="#b4c6a0" fill-opacity="0.42"/>
<circle cx="86.27" cy="422.93" r="2.1" fill="#b4c6a0" fill-opacity="0.42"/>
<circle cx="80.46" cy="422.91" r="2.1" fill="#b4c6a0" fill-opacity="0.42"/>
<circle cx="85.18" cy="421.86" r="2.1" fill="#b4c6a0" fill-opacity="0.42"/>
<circle cx="82.18" cy="421.72" r="2.1" fill="#b4c6a0" fill-opacity="0.42"/>
<circle cx="81.37" cy="421.60" r="2.1" fill="#b4c6a0" fill-opacity="0.42"/>
<circle cx="84.14" cy="421.48" r="2.1" fill="#b4c6a0" fill-opacity="0.42"/>
<circle cx="79.16" cy="421.11" r="2.1" fill="#b4c6a0" fill-opacity="0.42"/>
<circle cx="82.01" cy="419.85" r="2.1" fill="#b4c6a0" fill-opacity="0.42"/>
<circle cx="78.41" cy="418.83" r="2.1" fill="#b4c6a0" fill-opacity="0.42"/>
<circle cx="81.97" cy="418.56" r="2.1" fill="#b4c6a0" fill-opacity="0.42"/>
<circle cx="85.27" cy="418.37" r="2.1" fill="#b4c6a0" fill-opacity="0.42"/>
<circle cx="78.97" cy="417.75" r="2.1" fill="#b4c6a0" fill-opacity="0.42"/>
<circle cx="79.25" cy="417.36" r="2.1" fill="#b4c6a0" fill-opacity="0.42"/>
<circle cx="82.26" cy="417.23" r="2.1" fill="#b4c6a0" fill-opacity="0.42"/>
<circle cx="83.70" cy="413.90" r="2.1" fill="#b4c6a0" fill-opacity="0.42"/>
<circle cx="82.04" cy="413.69" r="2.1" fill="#b4c6a0" fill-opacity="0.42"/>
<circle cx="111.09" cy="507.09" r="2.1" fill="#9fc0d0" fill-opacity="0.42"/>
<circle cx="111.87" cy="506.22" r="2.1" fill="#9fc0d0" fill-opacity="0.42"/>
<circle cx="109.00" cy="503.78" r="2.1" fill="#9fc0d0" fill-opacity="0.42"/>
<circle cx="109.75" cy="502.22" r="2.1" fill="#9fc0d0" fill-opacity="0.42"/>
<circle cx="108.70" cy="499.76" r="2.1" fill="#9fc0d0" fill-opacity="0.42"/>
<circle cx="112.55" cy="499.32" r="2.1" fill="#9fc0d0" fill-opacity="0.42"/>
<circle cx="108.36" cy="497.56" r="2.1" fill="#9fc0d0" fill-opacity="0.42"/>
<circle cx="108.20" cy="497.48" r="2.1" fill="#9fc0d0" fill-opacity="0.42"/>
<circle cx="108.14" cy="497.40" r="2.1" fill="#9fc0d0" fill-opacity="0.42"/>
<circle cx="112.84" cy="496.14" r="2.1" fill="#9fc0d0" fill-opacity="0.42"/>
<circle cx="108.50" cy="495.49" r="2.1" fill="#9fc0d0" fill-opacity="0.42"/>
<circle cx="114.12" cy="494.42" r="2.1" fill="#9fc0d0" fill-opacity="0.42"/>
<circle cx="106.66" cy="492.72" r="2.1" fill="#9fc0d0" fill-opacity="0.42"/>
<circle cx="110.21" cy="491.64" r="2.1" fill="#9fc0d0" fill-opacity="0.42"/>
<circle cx="107.10" cy="491.08" r="2.1" fill="#9fc0d0" fill-opacity="0.42"/>
<circle cx="107.51" cy="490.79" r="2.1" fill="#9fc0d0" fill-opacity="0.42"/>
<circle cx="107.39" cy="490.12" r="2.1" fill="#9fc0d0" fill-opacity="0.42"/>
<circle cx="111.23" cy="489.54" r="2.1" fill="#9fc0d0" fill-opacity="0.42"/>
<circle cx="107.50" cy="488.64" r="2.1" fill="#9fc0d0" fill-opacity="0.42"/>
<circle cx="108.81" cy="488.29" r="2.1" fill="#9fc0d0" fill-opacity="0.42"/>
<circle cx="114.76" cy="487.95" r="2.1" fill="#9fc0d0" fill-opacity="0.42"/>
<circle cx="111.79" cy="487.93" r="2.1" fill="#9fc0d0" fill-opacity="0.42"/>
<circle cx="104.92" cy="487.89" r="2.1" fill="#9fc0d0" fill-opacity="0.42"/>
<circle cx="107.84" cy="487.40" r="2.1" fill="#9fc0d0" fill-opacity="0.42"/>
<circle cx="111.91" cy="487.26" r="2.1" fill="#9fc0d0" fill-opacity="0.42"/>
<circle cx="108.32" cy="486.52" r="2.1" fill="#9fc0d0" fill-opacity="0.42"/>
<circle cx="105.53" cy="486.30" r="2.1" fill="#9fc0d0" fill-opacity="0.42"/>
<circle cx="105.65" cy="486.26" r="2.1" fill="#9fc0d0" fill-opacity="0.42"/>
<circle cx="108.78" cy="486.02" r="2.1" fill="#9fc0d0" fill-opacity="0.42"/>
<circle cx="112.11" cy="486.00" r="2.1" fill="#9fc0d0" fill-opacity="0.42"/>
<circle cx="110.23" cy="485.63" r="2.1" fill="#9fc0d0" fill-opacity="0.42"/>
<circle cx="107.10" cy="484.64" r="2.1" fill="#9fc0d0" fill-opacity="0.42"/>
<circle cx="105.96" cy="484.47" r="2.1" fill="#9fc0d0" fill-opacity="0.42"/>
<circle cx="107.95" cy="484.25" r="2.1" fill="#9fc0d0" fill-opacity="0.42"/>
<circle cx="115.77" cy="483.89" r="2.1" fill="#9fc0d0" fill-opacity="0.42"/>
<circle cx="104.84" cy="483.70" r="2.1" fill="#9fc0d0" fill-opacity="0.42"/>
<circle cx="104.71" cy="483.53" r="2.1" fill="#9fc0d0" fill-opacity="0.42"/>
<circle cx="104.82" cy="483.00" r="2.1" fill="#9fc0d0" fill-opacity="0.42"/>
<circle cx="111.38" cy="482.87" r="2.1" fill="#9fc0d0" fill-opacity="0.42"/>
<circle cx="103.83" cy="482.09" r="2.1" fill="#9fc0d0" fill-opacity="0.42"/>
<circle cx="107.82" cy="481.86" r="2.1" fill="#9fc0d0" fill-opacity="0.42"/>
<circle cx="107.77" cy="481.84" r="2.1" fill="#9fc0d0" fill-opacity="0.42"/>
<circle cx="109.49" cy="481.80" r="2.1" fill="#9fc0d0" fill-opacity="0.42"/>
<circle cx="109.63" cy="481.77" r="2.1" fill="#9fc0d0" fill-opacity="0.42"/>
<circle cx="115.53" cy="481.28" r="2.1" fill="#9fc0d0" fill-opacity="0.42"/>
<circle cx="107.70" cy="481.00" r="2.1" fill="#9fc0d0" fill-opacity="0.42"/>
<circle cx="105.67" cy="480.96" r="2.1" fill="#9fc0d0" fill-opacity="0.42"/>
<circle cx="114.80" cy="480.77" r="2.1" fill="#9fc0d0" fill-opacity="0.42"/>
<circle cx="106.53" cy="480.62" r="2.1" fill="#9fc0d0" fill-opacity="0.42"/>
<circle cx="105.25" cy="479.64" r="2.1" fill="#9fc0d0" fill-opacity="0.42"/>
<circle cx="103.44" cy="479.36" r="2.1" fill="#9fc0d0" fill-opacity="0.42"/>
<circle cx="117.43" cy="479.31" r="2.1" fill="#9fc0d0" fill-opacity="0.42"/>
<circle cx="113.06" cy="479.22" r="2.1" fill="#9fc0d0" fill-opacity="0.42"/>
<circle cx="112.53" cy="479.13" r="2.1" fill="#9fc0d0" fill-opacity="0.42"/>
<circle cx="104.46" cy="478.97" r="2.1" fill="#9fc0d0" fill-opacity="0.42"/>
<circle cx="115.61" cy="478.91" r="2.1" fill="#9fc0d0" fill-opacity="0.42"/>
<circle cx="104.03" cy="478.88" r="2.1" fill="#9fc0d0" fill-opacity="0.42"/>
<circle cx="113.52" cy="478.61" r="2.1" fill="#9fc0d0" fill-opacity="0.42"/>
<circle cx="115.57" cy="478.53" r="2.1" fill="#9fc0d0" fill-opacity="0.42"/>
<circle cx="110.03" cy="478.51" r="2.1" fill="#9fc0d0" fill-opacity="0.42"/>
<circle cx="105.88" cy="476.62" r="2.1" fill="#9fc0d0" fill-opacity="0.42"/>
<circle cx="117.81" cy="476.35" r="2.1" fill="#9fc0d0" fill-opacity="0.42"/>
<circle cx="103.67" cy="476.13" r="2.1" fill="#9fc0d0" fill-opacity="0.42"/>
<circle cx="107.12" cy="475.94" r="2.1" fill="#9fc0d0" fill-opacity="0.42"/>
<circle cx="112.34" cy="475.93" r="2.1" fill="#9fc0d0" fill-opacity="0.42"/>
<circle cx="112.61" cy="475.37" r="2.1" fill="#9fc0d0" fill-opacity="0.42"/>
<circle cx="105.88" cy="475.03" r="2.1" fill="#9fc0d0" fill-opacity="0.42"/>
<circle cx="107.08" cy="474.97" r="2.1" fill="#9fc0d0" fill-opacity="0.42"/>
<circle cx="109.12" cy="474.78" r="2.1" fill="#9fc0d0" fill-opacity="0.42"/>
<circle cx="117.86" cy="474.50" r="2.1" fill="#9fc0d0" fill-opacity="0.42"/>
<circle cx="118.09" cy="474.28" r="2.1" fill="#9fc0d0" fill-opacity="0.42"/>
<circle cx="104.52" cy="474.25" r="2.1" fill="#9fc0d0" fill-opacity="0.42"/>
<circle cx="115.98" cy="474.13" r="2.1" fill="#9fc0d0" fill-opacity="0.42"/>
<circle cx="109.05" cy="474.07" r="2.1" fill="#9fc0d0" fill-opacity="0.42"/>
<circle cx="106.81" cy="473.93" r="2.1" fill="#9fc0d0" fill-opacity="0.42"/>
<circle cx="109.65" cy="473.57" r="2.1" fill="#9fc0d0" fill-opacity="0.42"/>
<circle cx="103.84" cy="472.33" r="2.1" fill="#9fc0d0" fill-opacity="0.42"/>
<circle cx="114.02" cy="472.29" r="2.1" fill="#9fc0d0" fill-opacity="0.42"/>
<circle cx="113.63" cy="472.20" r="2.1" fill="#9fc0d0" fill-opacity="0.42"/>
<circle cx="106.79" cy="472.10" r="2.1" fill="#9fc0d0" fill-opacity="0.42"/>
<circle cx="103.50" cy="472.05" r="2.1" fill="#9fc0d0" fill-opacity="0.42"/>
<circle cx="114.29" cy="471.84" r="2.1" fill="#9fc0d0" fill-opacity="0.42"/>
<circle cx="117.83" cy="471.60" r="2.1" fill="#9fc0d0" fill-opacity="0.42"/>
<circle cx="105.03" cy="470.83" r="2.1" fill="#9fc0d0" fill-opacity="0.42"/>
<circle cx="117.89" cy="470.67" r="2.1" fill="#9fc0d0" fill-opacity="0.42"/>
<circle cx="111.43" cy="470.05" r="2.1" fill="#9fc0d0" fill-opacity="0.42"/>
<circle cx="106.59" cy="469.87" r="2.1" fill="#9fc0d0" fill-opacity="0.42"/>
<circle cx="114.57" cy="469.01" r="2.1" fill="#9fc0d0" fill-opacity="0.42"/>
<circle cx="114.60" cy="468.86" r="2.1" fill="#9fc0d0" fill-opacity="0.42"/>
<circle cx="108.42" cy="468.61" r="2.1" fill="#9fc0d0" fill-opacity="0.42"/>
<circle cx="111.68" cy="467.95" r="2.1" fill="#9fc0d0" fill-opacity="0.42"/>
<circle cx="106.41" cy="467.73" r="2.1" fill="#9fc0d0" fill-opacity="0.42"/>
<circle cx="111.91" cy="467.72" r="2.1" fill="#9fc0d0" fill-opacity="0.42"/>
<circle cx="106.10" cy="467.71" r="2.1" fill="#9fc0d0" fill-opacity="0.42"/>
<circle cx="108.57" cy="467.32" r="2.1" fill="#9fc0d0" fill-opacity="0.42"/>
<circle cx="114.91" cy="467.23" r="2.1" fill="#9fc0d0" fill-opacity="0.42"/>
<circle cx="114.93" cy="466.54" r="2.1" fill="#9fc0d0" fill-opacity="0.42"/>
<circle cx="113.02" cy="466.37" r="2.1" fill="#9fc0d0" fill-opacity="0.42"/>
<circle cx="116.57" cy="466.31" r="2.1" fill="#9fc0d0" fill-opacity="0.42"/>
<circle cx="114.65" cy="466.09" r="2.1" fill="#9fc0d0" fill-opacity="0.42"/>
<circle cx="112.07" cy="466.05" r="2.1" fill="#9fc0d0" fill-opacity="0.42"/>
<circle cx="113.06" cy="465.79" r="2.1" fill="#9fc0d0" fill-opacity="0.42"/>
<circle cx="105.25" cy="465.50" r="2.1" fill="#9fc0d0" fill-opacity="0.42"/>
<circle cx="103.98" cy="465.48" r="2.1" fill="#9fc0d0" fill-opacity="0.42"/>
<circle cx="106.89" cy="465.42" r="2.1" fill="#9fc0d0" fill-opacity="0.42"/>
<circle cx="114.35" cy="464.88" r="2.1" fill="#9fc0d0" fill-opacity="0.42"/>
<circle cx="117.57" cy="464.65" r="2.1" fill="#9fc0d0" fill-opacity="0.42"/>
<circle cx="106.63" cy="463.63" r="2.1" fill="#9fc0d0" fill-opacity="0.42"/>
<circle cx="117.33" cy="463.51" r="2.1" fill="#9fc0d0" fill-opacity="0.42"/>
<circle cx="115.10" cy="463.49" r="2.1" fill="#9fc0d0" fill-opacity="0.42"/>
<circle cx="105.89" cy="463.43" r="2.1" fill="#9fc0d0" fill-opacity="0.42"/>
<circle cx="111.13" cy="463.30" r="2.1" fill="#9fc0d0" fill-opacity="0.42"/>
<circle cx="107.30" cy="463.03" r="2.1" fill="#9fc0d0" fill-opacity="0.42"/>
<circle cx="114.03" cy="463.02" r="2.1" fill="#9fc0d0" fill-opacity="0.42"/>
<circle cx="108.59" cy="462.90" r="2.1" fill="#9fc0d0" fill-opacity="0.42"/>
<circle cx="109.16" cy="462.37" r="2.1" fill="#9fc0d0" fill-opacity="0.42"/>
<circle cx="111.54" cy="461.73" r="2.1" fill="#9fc0d0" fill-opacity="0.42"/>
<circle cx="107.90" cy="461.10" r="2.1" fill="#9fc0d0" fill-opacity="0.42"/>
<circle cx="114.43" cy="460.89" r="2.1" fill="#9fc0d0" fill-opacity="0.42"/>
<circle cx="112.01" cy="460.26" r="2.1" fill="#9fc0d0" fill-opacity="0.42"/>
<circle cx="104.89" cy="460.18" r="2.1" fill="#9fc0d0" fill-opacity="0.42"/>
<circle cx="111.44" cy="459.98" r="2.1" fill="#9fc0d0" fill-opacity="0.42"/>
<circle cx="109.84" cy="459.33" r="2.1" fill="#9fc0d0" fill-opacity="0.42"/>
<circle cx="115.86" cy="459.02" r="2.1" fill="#9fc0d0" fill-opacity="0.42"/>
<circle cx="116.14" cy="458.97" r="2.1" fill="#9fc0d0" fill-opacity="0.42"/>
<circle cx="105.35" cy="458.50" r="2.1" fill="#9fc0d0" fill-opacity="0.42"/>
<circle cx="113.77" cy="458.29" r="2.1" fill="#9fc0d0" fill-opacity="0.42"/>
<circle cx="111.97" cy="457.70" r="2.1" fill="#9fc0d0" fill-opacity="0.42"/>
<circle cx="110.61" cy="457.58" r="2.1" fill="#9fc0d0" fill-opacity="0.42"/>
<circle cx="106.27" cy="457.11" r="2.1" fill="#9fc0d0" fill-opacity="0.42"/>
<circle cx="114.99" cy="457.07" r="2.1" fill="#9fc0d0" fill-opacity="0.42"/>
<circle cx="112.12" cy="456.13" r="2.1" fill="#9fc0d0" fill-opacity="0.42"/>
<circle cx="111.97" cy="456.12" r="2.1" fill="#9fc0d0" fill-opacity="0.42"/>
<circle cx="115.38" cy="455.82" r="2.1" fill="#9fc0d0" fill-opacity="0.42"/>
<circle cx="106.71" cy="455.56" r="2.1" fill="#9fc0d0" fill-opacity="0.42"/>
<circle cx="109.45" cy="455.25" r="2.1" fill="#9fc0d0" fill-opacity="0.42"/>
<circle cx="106.09" cy="454.71" r="2.1" fill="#9fc0d0" fill-opacity="0.42"/>
<circle cx="108.51" cy="454.57" r="2.1" fill="#9fc0d0" fill-opacity="0.42"/>
<circle cx="115.33" cy="454.43" r="2.1" fill="#9fc0d0" fill-opacity="0.42"/>
<circle cx="109.62" cy="452.58" r="2.1" fill="#9fc0d0" fill-opacity="0.42"/>
<circle cx="112.99" cy="451.01" r="2.1" fill="#9fc0d0" fill-opacity="0.42"/>
<circle cx="113.21" cy="450.79" r="2.1" fill="#9fc0d0" fill-opacity="0.42"/>
<circle cx="110.85" cy="449.25" r="2.1" fill="#9fc0d0" fill-opacity="0.42"/>
<circle cx="112.59" cy="448.70" r="2.1" fill="#9fc0d0" fill-opacity="0.42"/>
<circle cx="109.16" cy="446.77" r="2.1" fill="#9fc0d0" fill-opacity="0.42"/>
<circle cx="108.63" cy="445.85" r="2.1" fill="#9fc0d0" fill-opacity="0.42"/>
<circle cx="109.39" cy="444.52" r="2.1" fill="#9fc0d0" fill-opacity="0.42"/>
<circle cx="109.14" cy="443.24" r="2.1" fill="#9fc0d0" fill-opacity="0.42"/>
<circle cx="109.61" cy="439.38" r="2.1" fill="#9fc0d0" fill-opacity="0.42"/>
<circle cx="109.97" cy="434.24" r="2.1" fill="#9fc0d0" fill-opacity="0.42"/>
<line x1="53.6" y1="441.7" x2="53.6" y2="466.6" stroke="#a83a47" stroke-width="2.2"/>
<circle cx="53.6" cy="455.6" r="3.4" fill="#fff" stroke="#a83a47" stroke-width="2"/>
<line x1="81.8" y1="427.2" x2="81.8" y2="452.7" stroke="#5e8a3e" stroke-width="2.2"/>
<circle cx="81.8" cy="439.3" r="3.4" fill="#fff" stroke="#5e8a3e" stroke-width="2"/>
<line x1="110.3" y1="458.2" x2="110.3" y2="488.4" stroke="#2f7190" stroke-width="2.2"/>
<circle cx="110.3" cy="474.5" r="3.4" fill="#fff" stroke="#2f7190" stroke-width="2"/>
<line x1="53.2" y1="387.3" x2="110.1" y2="387.3" stroke="#666" stroke-width="1.1" />
<polygon points="76.20,379.50 76.82,381.15 78.58,381.23 77.20,382.32 77.67,384.02 76.20,383.05 74.73,384.02 75.20,382.32 73.82,381.23 75.58,381.15" fill="#333"/>
<polygon points="81.50,379.50 82.12,381.15 83.88,381.23 82.50,382.32 82.97,384.02 81.50,383.05 80.03,384.02 80.50,382.32 79.12,381.23 80.88,381.15" fill="#333"/>
<polygon points="86.80,379.50 87.42,381.15 89.18,381.23 87.80,382.32 88.27,384.02 86.80,383.05 85.33,384.02 85.80,382.32 84.42,381.23 86.18,381.15" fill="#333"/>
<line x1="82" y1="399.9" x2="110.5" y2="399.9" stroke="#c4c4c4" stroke-width="1.5" />
<polygon points="90.70,392.40 91.32,394.05 93.08,394.13 91.70,395.22 92.17,396.92 90.70,395.95 89.23,396.92 89.70,395.22 88.32,394.13 90.08,394.05" fill="#333"/>
<polygon points="96.00,392.40 96.62,394.05 98.38,394.13 97.00,395.22 97.47,396.92 96.00,395.95 94.53,396.92 95.00,395.22 93.62,394.13 95.38,394.05" fill="#333"/>
<polygon points="101.30,392.40 101.92,394.05 103.68,394.13 102.30,395.22 102.77,396.92 101.30,395.95 99.83,396.92 100.30,395.22 98.92,394.13 100.68,394.05" fill="#333"/>
<line x1="53.2" y1="408.3" x2="81.9" y2="408.3" stroke="#666" stroke-width="1.1" />
<polygon points="62.30,401.40 62.92,403.05 64.68,403.13 63.30,404.22 63.77,405.92 62.30,404.95 60.83,405.92 61.30,404.22 59.92,403.13 61.68,403.05" fill="#333"/>
<polygon points="67.60,401.40 68.22,403.05 69.98,403.13 68.60,404.22 69.07,405.92 67.60,404.95 66.13,405.92 66.60,404.22 65.22,403.13 66.98,403.05" fill="#333"/>
<polygon points="72.90,401.40 73.52,403.05 75.28,403.13 73.90,404.22 74.37,405.92 72.90,404.95 71.43,405.92 71.90,404.22 70.52,403.13 72.28,403.05" fill="#333"/>
<line x1="174.6" y1="404.2" x2="174.6" y2="521.1" stroke="#555" stroke-width="1" />
<line x1="171.4" y1="404.29999999999995" x2="174.6" y2="404.29999999999995" stroke="#555" stroke-width="1" />
<text x="167.6" y="407.4" font-size="8.7" text-anchor="end" fill="#444444" font-weight="normal" textLength="13.1" lengthAdjust="spacingAndGlyphs" >0.5</text>
<line x1="171.4" y1="427.59999999999997" x2="174.6" y2="427.59999999999997" stroke="#555" stroke-width="1" />
<text x="167.6" y="430.7" font-size="8.7" text-anchor="end" fill="#444444" font-weight="normal" textLength="13.1" lengthAdjust="spacingAndGlyphs" >0.4</text>
<line x1="171.4" y1="450.9" x2="174.6" y2="450.9" stroke="#555" stroke-width="1" />
<text x="167.6" y="454.0" font-size="8.7" text-anchor="end" fill="#444444" font-weight="normal" textLength="13.1" lengthAdjust="spacingAndGlyphs" >0.3</text>
<line x1="171.4" y1="474.19999999999993" x2="174.6" y2="474.19999999999993" stroke="#555" stroke-width="1" />
<text x="167.6" y="477.29999999999995" font-size="8.7" text-anchor="end" fill="#444444" font-weight="normal" textLength="13.1" lengthAdjust="spacingAndGlyphs" >0.2</text>
<line x1="171.4" y1="497.49999999999994" x2="174.6" y2="497.49999999999994" stroke="#555" stroke-width="1" />
<text x="167.6" y="500.59999999999997" font-size="8.7" text-anchor="end" fill="#444444" font-weight="normal" textLength="13.1" lengthAdjust="spacingAndGlyphs" >0.1</text>
<line x1="171.4" y1="520.8" x2="174.6" y2="520.8" stroke="#555" stroke-width="1" />
<text x="167.6" y="523.9" font-size="8.7" text-anchor="end" fill="#444444" font-weight="normal" textLength="4.6" lengthAdjust="spacingAndGlyphs" >0</text>
<line x1="189.3" y1="521.1" x2="245.5" y2="521.1" stroke="#555" stroke-width="1" />
<line x1="189.3" y1="521.1" x2="189.3" y2="524.3" stroke="#555" stroke-width="1" />
<text x="189.3" y="535.6" font-size="8.7" text-anchor="middle" fill="#444444" font-weight="normal" textLength="12.5" lengthAdjust="spacingAndGlyphs" >Ref</text>
<line x1="217.5" y1="521.1" x2="217.5" y2="524.3" stroke="#555" stroke-width="1" />
<text x="217.5" y="535.6" font-size="8.7" text-anchor="middle" fill="#444444" font-weight="normal" textLength="10" lengthAdjust="spacingAndGlyphs" >V+</text>
<line x1="245.5" y1="521.1" x2="245.5" y2="524.3" stroke="#555" stroke-width="1" />
<text x="245.5" y="535.6" font-size="8.7" text-anchor="middle" fill="#444444" font-weight="normal" textLength="10" lengthAdjust="spacingAndGlyphs" >S+</text>
<text x="217.5" y="552.4" font-size="10.0" text-anchor="middle" fill="#444444" font-weight="normal" textLength="46.2" lengthAdjust="spacingAndGlyphs" >Condition</text>
<text transform="translate(145.6,462) rotate(-90)" font-size="10.0" text-anchor="middle" fill="#444444" textLength="54" lengthAdjust="spacingAndGlyphs">Switch rate</text>
<circle cx="188.45" cy="513.81" r="2.1" fill="#d49aa0" fill-opacity="0.42"/>
<circle cx="184.74" cy="510.96" r="2.1" fill="#d49aa0" fill-opacity="0.42"/>
<circle cx="184.47" cy="510.91" r="2.1" fill="#d49aa0" fill-opacity="0.42"/>
<circle cx="191.29" cy="510.68" r="2.1" fill="#d49aa0" fill-opacity="0.42"/>
<circle cx="194.55" cy="510.44" r="2.1" fill="#d49aa0" fill-opacity="0.42"/>
<circle cx="189.96" cy="510.28" r="2.1" fill="#d49aa0" fill-opacity="0.42"/>
<circle cx="194.82" cy="509.42" r="2.1" fill="#d49aa0" fill-opacity="0.42"/>
<circle cx="185.84" cy="509.02" r="2.1" fill="#d49aa0" fill-opacity="0.42"/>
<circle cx="185.67" cy="508.67" r="2.1" fill="#d49aa0" fill-opacity="0.42"/>
<circle cx="193.79" cy="508.46" r="2.1" fill="#d49aa0" fill-opacity="0.42"/>
<circle cx="187.21" cy="508.44" r="2.1" fill="#d49aa0" fill-opacity="0.42"/>
<circle cx="191.58" cy="508.37" r="2.1" fill="#d49aa0" fill-opacity="0.42"/>
<circle cx="190.46" cy="508.26" r="2.1" fill="#d49aa0" fill-opacity="0.42"/>
<circle cx="188.12" cy="508.19" r="2.1" fill="#d49aa0" fill-opacity="0.42"/>
<circle cx="192.02" cy="508.19" r="2.1" fill="#d49aa0" fill-opacity="0.42"/>
<circle cx="191.58" cy="507.95" r="2.1" fill="#d49aa0" fill-opacity="0.42"/>
<circle cx="195.61" cy="507.88" r="2.1" fill="#d49aa0" fill-opacity="0.42"/>
<circle cx="194.38" cy="507.86" r="2.1" fill="#d49aa0" fill-opacity="0.42"/>
<circle cx="192.10" cy="507.35" r="2.1" fill="#d49aa0" fill-opacity="0.42"/>
<circle cx="187.20" cy="506.96" r="2.1" fill="#d49aa0" fill-opacity="0.42"/>
<circle cx="190.96" cy="506.75" r="2.1" fill="#d49aa0" fill-opacity="0.42"/>
<circle cx="185.98" cy="506.70" r="2.1" fill="#d49aa0" fill-opacity="0.42"/>
<circle cx="195.31" cy="506.63" r="2.1" fill="#d49aa0" fill-opacity="0.42"/>
<circle cx="191.48" cy="506.44" r="2.1" fill="#d49aa0" fill-opacity="0.42"/>
<circle cx="184.75" cy="506.33" r="2.1" fill="#d49aa0" fill-opacity="0.42"/>
<circle cx="193.59" cy="506.26" r="2.1" fill="#d49aa0" fill-opacity="0.42"/>
<circle cx="193.02" cy="506.01" r="2.1" fill="#d49aa0" fill-opacity="0.42"/>
<circle cx="195.81" cy="505.95" r="2.1" fill="#d49aa0" fill-opacity="0.42"/>
<circle cx="196.22" cy="505.92" r="2.1" fill="#d49aa0" fill-opacity="0.42"/>
<circle cx="189.20" cy="505.90" r="2.1" fill="#d49aa0" fill-opacity="0.42"/>
<circle cx="184.22" cy="505.76" r="2.1" fill="#d49aa0" fill-opacity="0.42"/>
<circle cx="184.19" cy="505.69" r="2.1" fill="#d49aa0" fill-opacity="0.42"/>
<circle cx="182.45" cy="505.50" r="2.1" fill="#d49aa0" fill-opacity="0.42"/>
<circle cx="184.28" cy="504.95" r="2.1" fill="#d49aa0" fill-opacity="0.42"/>
<circle cx="192.84" cy="504.87" r="2.1" fill="#d49aa0" fill-opacity="0.42"/>
<circle cx="182.01" cy="504.80" r="2.1" fill="#d49aa0" fill-opacity="0.42"/>
<circle cx="188.61" cy="504.69" r="2.1" fill="#d49aa0" fill-opacity="0.42"/>
<circle cx="191.77" cy="504.64" r="2.1" fill="#d49aa0" fill-opacity="0.42"/>
<circle cx="184.71" cy="504.13" r="2.1" fill="#d49aa0" fill-opacity="0.42"/>
<circle cx="191.09" cy="504.07" r="2.1" fill="#d49aa0" fill-opacity="0.42"/>
<circle cx="191.67" cy="504.02" r="2.1" fill="#d49aa0" fill-opacity="0.42"/>
<circle cx="190.01" cy="503.99" r="2.1" fill="#d49aa0" fill-opacity="0.42"/>
<circle cx="182.21" cy="503.97" r="2.1" fill="#d49aa0" fill-opacity="0.42"/>
<circle cx="191.00" cy="503.91" r="2.1" fill="#d49aa0" fill-opacity="0.42"/>
<circle cx="183.38" cy="503.83" r="2.1" fill="#d49aa0" fill-opacity="0.42"/>
<circle cx="182.44" cy="503.82" r="2.1" fill="#d49aa0" fill-opacity="0.42"/>
<circle cx="194.75" cy="503.59" r="2.1" fill="#d49aa0" fill-opacity="0.42"/>
<circle cx="194.47" cy="503.50" r="2.1" fill="#d49aa0" fill-opacity="0.42"/>
<circle cx="195.58" cy="503.37" r="2.1" fill="#d49aa0" fill-opacity="0.42"/>
<circle cx="183.30" cy="503.11" r="2.1" fill="#d49aa0" fill-opacity="0.42"/>
<circle cx="186.44" cy="502.83" r="2.1" fill="#d49aa0" fill-opacity="0.42"/>
<circle cx="184.65" cy="502.64" r="2.1" fill="#d49aa0" fill-opacity="0.42"/>
<circle cx="186.72" cy="502.32" r="2.1" fill="#d49aa0" fill-opacity="0.42"/>
<circle cx="183.73" cy="502.24" r="2.1" fill="#d49aa0" fill-opacity="0.42"/>
<circle cx="189.90" cy="501.88" r="2.1" fill="#d49aa0" fill-opacity="0.42"/>
<circle cx="193.97" cy="501.53" r="2.1" fill="#d49aa0" fill-opacity="0.42"/>
<circle cx="196.29" cy="501.52" r="2.1" fill="#d49aa0" fill-opacity="0.42"/>
<circle cx="193.92" cy="501.44" r="2.1" fill="#d49aa0" fill-opacity="0.42"/>
<circle cx="188.98" cy="501.38" r="2.1" fill="#d49aa0" fill-opacity="0.42"/>
<circle cx="187.20" cy="501.23" r="2.1" fill="#d49aa0" fill-opacity="0.42"/>
<circle cx="186.72" cy="501.18" r="2.1" fill="#d49aa0" fill-opacity="0.42"/>
<circle cx="191.15" cy="501.13" r="2.1" fill="#d49aa0" fill-opacity="0.42"/>
<circle cx="191.97" cy="500.79" r="2.1" fill="#d49aa0" fill-opacity="0.42"/>
<circle cx="187.14" cy="500.67" r="2.1" fill="#d49aa0" fill-opacity="0.42"/>
<circle cx="191.06" cy="500.64" r="2.1" fill="#d49aa0" fill-opacity="0.42"/>
<circle cx="183.89" cy="500.60" r="2.1" fill="#d49aa0" fill-opacity="0.42"/>
<circle cx="182.57" cy="500.53" r="2.1" fill="#d49aa0" fill-opacity="0.42"/>
<circle cx="193.78" cy="500.37" r="2.1" fill="#d49aa0" fill-opacity="0.42"/>
<circle cx="184.59" cy="500.35" r="2.1" fill="#d49aa0" fill-opacity="0.42"/>
<circle cx="194.81" cy="499.51" r="2.1" fill="#d49aa0" fill-opacity="0.42"/>
<circle cx="195.96" cy="499.46" r="2.1" fill="#d49aa0" fill-opacity="0.42"/>
<circle cx="184.84" cy="499.25" r="2.1" fill="#d49aa0" fill-opacity="0.42"/>
<circle cx="185.95" cy="499.22" r="2.1" fill="#d49aa0" fill-opacity="0.42"/>
<circle cx="190.34" cy="498.95" r="2.1" fill="#d49aa0" fill-opacity="0.42"/>
<circle cx="186.22" cy="498.88" r="2.1" fill="#d49aa0" fill-opacity="0.42"/>
<circle cx="182.76" cy="498.53" r="2.1" fill="#d49aa0" fill-opacity="0.42"/>
<circle cx="189.85" cy="498.34" r="2.1" fill="#d49aa0" fill-opacity="0.42"/>
<circle cx="183.90" cy="498.26" r="2.1" fill="#d49aa0" fill-opacity="0.42"/>
<circle cx="190.09" cy="498.24" r="2.1" fill="#d49aa0" fill-opacity="0.42"/>
<circle cx="184.68" cy="498.18" r="2.1" fill="#d49aa0" fill-opacity="0.42"/>
<circle cx="191.39" cy="497.74" r="2.1" fill="#d49aa0" fill-opacity="0.42"/>
<circle cx="193.80" cy="497.44" r="2.1" fill="#d49aa0" fill-opacity="0.42"/>
<circle cx="184.02" cy="497.05" r="2.1" fill="#d49aa0" fill-opacity="0.42"/>
<circle cx="195.45" cy="496.71" r="2.1" fill="#d49aa0" fill-opacity="0.42"/>
<circle cx="192.04" cy="496.60" r="2.1" fill="#d49aa0" fill-opacity="0.42"/>
<circle cx="191.55" cy="496.52" r="2.1" fill="#d49aa0" fill-opacity="0.42"/>
<circle cx="191.46" cy="496.35" r="2.1" fill="#d49aa0" fill-opacity="0.42"/>
<circle cx="186.16" cy="495.80" r="2.1" fill="#d49aa0" fill-opacity="0.42"/>
<circle cx="183.31" cy="495.74" r="2.1" fill="#d49aa0" fill-opacity="0.42"/>
<circle cx="191.76" cy="495.73" r="2.1" fill="#d49aa0" fill-opacity="0.42"/>
<circle cx="187.66" cy="495.44" r="2.1" fill="#d49aa0" fill-opacity="0.42"/>
<circle cx="194.52" cy="495.42" r="2.1" fill="#d49aa0" fill-opacity="0.42"/>
<circle cx="185.56" cy="495.40" r="2.1" fill="#d49aa0" fill-opacity="0.42"/>
<circle cx="192.57" cy="495.15" r="2.1" fill="#d49aa0" fill-opacity="0.42"/>
<circle cx="192.41" cy="494.90" r="2.1" fill="#d49aa0" fill-opacity="0.42"/>
<circle cx="192.25" cy="494.34" r="2.1" fill="#d49aa0" fill-opacity="0.42"/>
<circle cx="190.79" cy="493.79" r="2.1" fill="#d49aa0" fill-opacity="0.42"/>
<circle cx="186.41" cy="493.36" r="2.1" fill="#d49aa0" fill-opacity="0.42"/>
<circle cx="194.99" cy="493.01" r="2.1" fill="#d49aa0" fill-opacity="0.42"/>
<circle cx="186.79" cy="492.67" r="2.1" fill="#d49aa0" fill-opacity="0.42"/>
<circle cx="186.78" cy="492.03" r="2.1" fill="#d49aa0" fill-opacity="0.42"/>
<circle cx="193.51" cy="491.66" r="2.1" fill="#d49aa0" fill-opacity="0.42"/>
<circle cx="194.32" cy="491.64" r="2.1" fill="#d49aa0" fill-opacity="0.42"/>
<circle cx="188.64" cy="491.31" r="2.1" fill="#d49aa0" fill-opacity="0.42"/>
<circle cx="183.81" cy="491.21" r="2.1" fill="#d49aa0" fill-opacity="0.42"/>
<circle cx="190.05" cy="490.84" r="2.1" fill="#d49aa0" fill-opacity="0.42"/>
<circle cx="193.48" cy="490.39" r="2.1" fill="#d49aa0" fill-opacity="0.42"/>
<circle cx="194.21" cy="490.19" r="2.1" fill="#d49aa0" fill-opacity="0.42"/>
<circle cx="186.74" cy="490.03" r="2.1" fill="#d49aa0" fill-opacity="0.42"/>
<circle cx="192.75" cy="489.90" r="2.1" fill="#d49aa0" fill-opacity="0.42"/>
<circle cx="191.86" cy="487.84" r="2.1" fill="#d49aa0" fill-opacity="0.42"/>
<circle cx="192.80" cy="487.45" r="2.1" fill="#d49aa0" fill-opacity="0.42"/>
<circle cx="192.42" cy="487.09" r="2.1" fill="#d49aa0" fill-opacity="0.42"/>
<circle cx="190.74" cy="486.51" r="2.1" fill="#d49aa0" fill-opacity="0.42"/>
<circle cx="188.91" cy="486.25" r="2.1" fill="#d49aa0" fill-opacity="0.42"/>
<circle cx="188.48" cy="486.14" r="2.1" fill="#d49aa0" fill-opacity="0.42"/>
<circle cx="190.79" cy="484.51" r="2.1" fill="#d49aa0" fill-opacity="0.42"/>
<circle cx="187.29" cy="483.72" r="2.1" fill="#d49aa0" fill-opacity="0.42"/>
<circle cx="189.88" cy="482.68" r="2.1" fill="#d49aa0" fill-opacity="0.42"/>
<circle cx="186.22" cy="482.45" r="2.1" fill="#d49aa0" fill-opacity="0.42"/>
<circle cx="187.79" cy="481.71" r="2.1" fill="#d49aa0" fill-opacity="0.42"/>
<circle cx="185.86" cy="481.69" r="2.1" fill="#d49aa0" fill-opacity="0.42"/>
<circle cx="186.24" cy="481.37" r="2.1" fill="#d49aa0" fill-opacity="0.42"/>
<circle cx="186.36" cy="480.99" r="2.1" fill="#d49aa0" fill-opacity="0.42"/>
<circle cx="186.40" cy="479.91" r="2.1" fill="#d49aa0" fill-opacity="0.42"/>
<circle cx="187.18" cy="479.42" r="2.1" fill="#d49aa0" fill-opacity="0.42"/>
<circle cx="187.05" cy="479.16" r="2.1" fill="#d49aa0" fill-opacity="0.42"/>
<circle cx="191.62" cy="478.65" r="2.1" fill="#d49aa0" fill-opacity="0.42"/>
<circle cx="189.54" cy="478.51" r="2.1" fill="#d49aa0" fill-opacity="0.42"/>
<circle cx="186.87" cy="475.39" r="2.1" fill="#d49aa0" fill-opacity="0.42"/>
<circle cx="187.69" cy="473.93" r="2.1" fill="#d49aa0" fill-opacity="0.42"/>
<circle cx="190.86" cy="473.83" r="2.1" fill="#d49aa0" fill-opacity="0.42"/>
<circle cx="189.91" cy="473.24" r="2.1" fill="#d49aa0" fill-opacity="0.42"/>
<circle cx="188.36" cy="473.04" r="2.1" fill="#d49aa0" fill-opacity="0.42"/>
<circle cx="187.00" cy="472.97" r="2.1" fill="#d49aa0" fill-opacity="0.42"/>
<circle cx="188.69" cy="472.90" r="2.1" fill="#d49aa0" fill-opacity="0.42"/>
<circle cx="188.61" cy="469.54" r="2.1" fill="#d49aa0" fill-opacity="0.42"/>
<circle cx="188.47" cy="469.54" r="2.1" fill="#d49aa0" fill-opacity="0.42"/>
<circle cx="190.53" cy="463.89" r="2.1" fill="#d49aa0" fill-opacity="0.42"/>
<circle cx="190.13" cy="463.42" r="2.1" fill="#d49aa0" fill-opacity="0.42"/>
<circle cx="189.99" cy="463.09" r="2.1" fill="#d49aa0" fill-opacity="0.42"/>
<circle cx="189.43" cy="450.27" r="2.1" fill="#d49aa0" fill-opacity="0.42"/>
<circle cx="189.82" cy="449.72" r="2.1" fill="#d49aa0" fill-opacity="0.42"/>
<circle cx="189.87" cy="444.52" r="2.1" fill="#d49aa0" fill-opacity="0.42"/>
<circle cx="189.42" cy="443.69" r="2.1" fill="#d49aa0" fill-opacity="0.42"/>
<circle cx="189.18" cy="437.94" r="2.1" fill="#d49aa0" fill-opacity="0.42"/>
<circle cx="189.02" cy="432.26" r="2.1" fill="#d49aa0" fill-opacity="0.42"/>
<circle cx="189.34" cy="427.60" r="2.1" fill="#d49aa0" fill-opacity="0.42"/>
<circle cx="189.01" cy="420.61" r="2.1" fill="#d49aa0" fill-opacity="0.42"/>
<circle cx="189.04" cy="415.95" r="2.1" fill="#d49aa0" fill-opacity="0.42"/>
<circle cx="215.67" cy="516.14" r="2.1" fill="#b4c6a0" fill-opacity="0.42"/>
<circle cx="215.10" cy="514.64" r="2.1" fill="#b4c6a0" fill-opacity="0.42"/>
<circle cx="214.66" cy="512.92" r="2.1" fill="#b4c6a0" fill-opacity="0.42"/>
<circle cx="217.99" cy="512.68" r="2.1" fill="#b4c6a0" fill-opacity="0.42"/>
<circle cx="212.86" cy="511.97" r="2.1" fill="#b4c6a0" fill-opacity="0.42"/>
<circle cx="222.03" cy="511.69" r="2.1" fill="#b4c6a0" fill-opacity="0.42"/>
<circle cx="216.22" cy="511.59" r="2.1" fill="#b4c6a0" fill-opacity="0.42"/>
<circle cx="216.51" cy="511.14" r="2.1" fill="#b4c6a0" fill-opacity="0.42"/>
<circle cx="220.43" cy="510.28" r="2.1" fill="#b4c6a0" fill-opacity="0.42"/>
<circle cx="212.31" cy="509.45" r="2.1" fill="#b4c6a0" fill-opacity="0.42"/>
<circle cx="213.95" cy="509.25" r="2.1" fill="#b4c6a0" fill-opacity="0.42"/>
<circle cx="219.88" cy="509.17" r="2.1" fill="#b4c6a0" fill-opacity="0.42"/>
<circle cx="219.62" cy="509.11" r="2.1" fill="#b4c6a0" fill-opacity="0.42"/>
<circle cx="217.34" cy="509.10" r="2.1" fill="#b4c6a0" fill-opacity="0.42"/>
<circle cx="220.42" cy="509.06" r="2.1" fill="#b4c6a0" fill-opacity="0.42"/>
<circle cx="219.23" cy="508.83" r="2.1" fill="#b4c6a0" fill-opacity="0.42"/>
<circle cx="220.23" cy="508.71" r="2.1" fill="#b4c6a0" fill-opacity="0.42"/>
<circle cx="222.04" cy="508.15" r="2.1" fill="#b4c6a0" fill-opacity="0.42"/>
<circle cx="220.48" cy="508.06" r="2.1" fill="#b4c6a0" fill-opacity="0.42"/>
<circle cx="222.36" cy="507.63" r="2.1" fill="#b4c6a0" fill-opacity="0.42"/>
<circle cx="216.72" cy="507.53" r="2.1" fill="#b4c6a0" fill-opacity="0.42"/>
<circle cx="221.92" cy="507.47" r="2.1" fill="#b4c6a0" fill-opacity="0.42"/>
<circle cx="220.85" cy="507.14" r="2.1" fill="#b4c6a0" fill-opacity="0.42"/>
<circle cx="210.87" cy="507.08" r="2.1" fill="#b4c6a0" fill-opacity="0.42"/>
<circle cx="217.94" cy="506.98" r="2.1" fill="#b4c6a0" fill-opacity="0.42"/>
<circle cx="223.19" cy="506.85" r="2.1" fill="#b4c6a0" fill-opacity="0.42"/>
<circle cx="216.82" cy="506.76" r="2.1" fill="#b4c6a0" fill-opacity="0.42"/>
<circle cx="215.75" cy="506.70" r="2.1" fill="#b4c6a0" fill-opacity="0.42"/>
<circle cx="215.65" cy="506.20" r="2.1" fill="#b4c6a0" fill-opacity="0.42"/>
<circle cx="222.10" cy="506.14" r="2.1" fill="#b4c6a0" fill-opacity="0.42"/>
<circle cx="215.50" cy="505.94" r="2.1" fill="#b4c6a0" fill-opacity="0.42"/>
<circle cx="213.45" cy="505.89" r="2.1" fill="#b4c6a0" fill-opacity="0.42"/>
<circle cx="220.27" cy="505.82" r="2.1" fill="#b4c6a0" fill-opacity="0.42"/>
<circle cx="224.54" cy="505.76" r="2.1" fill="#b4c6a0" fill-opacity="0.42"/>
<circle cx="219.24" cy="505.71" r="2.1" fill="#b4c6a0" fill-opacity="0.42"/>
<circle cx="210.90" cy="505.71" r="2.1" fill="#b4c6a0" fill-opacity="0.42"/>
<circle cx="211.84" cy="505.35" r="2.1" fill="#b4c6a0" fill-opacity="0.42"/>
<circle cx="214.79" cy="505.28" r="2.1" fill="#b4c6a0" fill-opacity="0.42"/>
<circle cx="220.92" cy="505.11" r="2.1" fill="#b4c6a0" fill-opacity="0.42"/>
<circle cx="223.50" cy="505.08" r="2.1" fill="#b4c6a0" fill-opacity="0.42"/>
<circle cx="221.46" cy="504.74" r="2.1" fill="#b4c6a0" fill-opacity="0.42"/>
<circle cx="211.84" cy="504.74" r="2.1" fill="#b4c6a0" fill-opacity="0.42"/>
<circle cx="220.25" cy="504.45" r="2.1" fill="#b4c6a0" fill-opacity="0.42"/>
<circle cx="221.74" cy="504.32" r="2.1" fill="#b4c6a0" fill-opacity="0.42"/>
<circle cx="216.98" cy="503.95" r="2.1" fill="#b4c6a0" fill-opacity="0.42"/>
<circle cx="213.43" cy="503.95" r="2.1" fill="#b4c6a0" fill-opacity="0.42"/>
<circle cx="217.94" cy="503.84" r="2.1" fill="#b4c6a0" fill-opacity="0.42"/>
<circle cx="216.80" cy="503.47" r="2.1" fill="#b4c6a0" fill-opacity="0.42"/>
<circle cx="215.34" cy="503.18" r="2.1" fill="#b4c6a0" fill-opacity="0.42"/>
<circle cx="210.33" cy="503.12" r="2.1" fill="#b4c6a0" fill-opacity="0.42"/>
<circle cx="214.02" cy="502.77" r="2.1" fill="#b4c6a0" fill-opacity="0.42"/>
<circle cx="221.30" cy="502.77" r="2.1" fill="#b4c6a0" fill-opacity="0.42"/>
<circle cx="214.85" cy="502.57" r="2.1" fill="#b4c6a0" fill-opacity="0.42"/>
<circle cx="219.99" cy="502.50" r="2.1" fill="#b4c6a0" fill-opacity="0.42"/>
<circle cx="216.36" cy="502.38" r="2.1" fill="#b4c6a0" fill-opacity="0.42"/>
<circle cx="213.38" cy="502.37" r="2.1" fill="#b4c6a0" fill-opacity="0.42"/>
<circle cx="221.23" cy="502.19" r="2.1" fill="#b4c6a0" fill-opacity="0.42"/>
<circle cx="224.02" cy="502.18" r="2.1" fill="#b4c6a0" fill-opacity="0.42"/>
<circle cx="220.97" cy="502.05" r="2.1" fill="#b4c6a0" fill-opacity="0.42"/>
<circle cx="221.29" cy="501.97" r="2.1" fill="#b4c6a0" fill-opacity="0.42"/>
<circle cx="216.10" cy="501.83" r="2.1" fill="#b4c6a0" fill-opacity="0.42"/>
<circle cx="223.23" cy="501.53" r="2.1" fill="#b4c6a0" fill-opacity="0.42"/>
<circle cx="224.90" cy="501.47" r="2.1" fill="#b4c6a0" fill-opacity="0.42"/>
<circle cx="219.08" cy="501.42" r="2.1" fill="#b4c6a0" fill-opacity="0.42"/>
<circle cx="221.07" cy="500.91" r="2.1" fill="#b4c6a0" fill-opacity="0.42"/>
<circle cx="211.63" cy="500.59" r="2.1" fill="#b4c6a0" fill-opacity="0.42"/>
<circle cx="210.96" cy="500.21" r="2.1" fill="#b4c6a0" fill-opacity="0.42"/>
<circle cx="220.11" cy="499.99" r="2.1" fill="#b4c6a0" fill-opacity="0.42"/>
<circle cx="215.42" cy="499.85" r="2.1" fill="#b4c6a0" fill-opacity="0.42"/>
<circle cx="214.41" cy="499.78" r="2.1" fill="#b4c6a0" fill-opacity="0.42"/>
<circle cx="219.13" cy="499.65" r="2.1" fill="#b4c6a0" fill-opacity="0.42"/>
<circle cx="210.62" cy="499.48" r="2.1" fill="#b4c6a0" fill-opacity="0.42"/>
<circle cx="218.57" cy="499.45" r="2.1" fill="#b4c6a0" fill-opacity="0.42"/>
<circle cx="220.57" cy="499.35" r="2.1" fill="#b4c6a0" fill-opacity="0.42"/>
<circle cx="221.19" cy="499.25" r="2.1" fill="#b4c6a0" fill-opacity="0.42"/>
<circle cx="210.42" cy="498.66" r="2.1" fill="#b4c6a0" fill-opacity="0.42"/>
<circle cx="211.15" cy="498.48" r="2.1" fill="#b4c6a0" fill-opacity="0.42"/>
<circle cx="222.03" cy="498.42" r="2.1" fill="#b4c6a0" fill-opacity="0.42"/>
<circle cx="223.26" cy="498.42" r="2.1" fill="#b4c6a0" fill-opacity="0.42"/>
<circle cx="223.42" cy="498.37" r="2.1" fill="#b4c6a0" fill-opacity="0.42"/>
<circle cx="218.29" cy="497.98" r="2.1" fill="#b4c6a0" fill-opacity="0.42"/>
<circle cx="215.12" cy="497.35" r="2.1" fill="#b4c6a0" fill-opacity="0.42"/>
<circle cx="222.27" cy="497.27" r="2.1" fill="#b4c6a0" fill-opacity="0.42"/>
<circle cx="215.64" cy="497.08" r="2.1" fill="#b4c6a0" fill-opacity="0.42"/>
<circle cx="224.00" cy="496.92" r="2.1" fill="#b4c6a0" fill-opacity="0.42"/>
<circle cx="217.74" cy="496.62" r="2.1" fill="#b4c6a0" fill-opacity="0.42"/>
<circle cx="210.60" cy="496.51" r="2.1" fill="#b4c6a0" fill-opacity="0.42"/>
<circle cx="210.76" cy="496.21" r="2.1" fill="#b4c6a0" fill-opacity="0.42"/>
<circle cx="223.24" cy="495.76" r="2.1" fill="#b4c6a0" fill-opacity="0.42"/>
<circle cx="215.03" cy="495.62" r="2.1" fill="#b4c6a0" fill-opacity="0.42"/>
<circle cx="213.24" cy="495.26" r="2.1" fill="#b4c6a0" fill-opacity="0.42"/>
<circle cx="211.56" cy="494.89" r="2.1" fill="#b4c6a0" fill-opacity="0.42"/>
<circle cx="215.30" cy="494.20" r="2.1" fill="#b4c6a0" fill-opacity="0.42"/>
<circle cx="223.63" cy="494.14" r="2.1" fill="#b4c6a0" fill-opacity="0.42"/>
<circle cx="210.92" cy="494.09" r="2.1" fill="#b4c6a0" fill-opacity="0.42"/>
<circle cx="221.62" cy="494.06" r="2.1" fill="#b4c6a0" fill-opacity="0.42"/>
<circle cx="216.04" cy="494.00" r="2.1" fill="#b4c6a0" fill-opacity="0.42"/>
<circle cx="221.29" cy="493.64" r="2.1" fill="#b4c6a0" fill-opacity="0.42"/>
<circle cx="222.16" cy="493.31" r="2.1" fill="#b4c6a0" fill-opacity="0.42"/>
<circle cx="222.94" cy="493.11" r="2.1" fill="#b4c6a0" fill-opacity="0.42"/>
<circle cx="213.54" cy="492.99" r="2.1" fill="#b4c6a0" fill-opacity="0.42"/>
<circle cx="220.36" cy="492.53" r="2.1" fill="#b4c6a0" fill-opacity="0.42"/>
<circle cx="213.07" cy="492.53" r="2.1" fill="#b4c6a0" fill-opacity="0.42"/>
<circle cx="213.93" cy="492.46" r="2.1" fill="#b4c6a0" fill-opacity="0.42"/>
<circle cx="214.00" cy="492.31" r="2.1" fill="#b4c6a0" fill-opacity="0.42"/>
<circle cx="223.58" cy="492.00" r="2.1" fill="#b4c6a0" fill-opacity="0.42"/>
<circle cx="222.54" cy="491.82" r="2.1" fill="#b4c6a0" fill-opacity="0.42"/>
<circle cx="220.64" cy="491.19" r="2.1" fill="#b4c6a0" fill-opacity="0.42"/>
<circle cx="213.97" cy="490.89" r="2.1" fill="#b4c6a0" fill-opacity="0.42"/>
<circle cx="213.07" cy="490.88" r="2.1" fill="#b4c6a0" fill-opacity="0.42"/>
<circle cx="220.64" cy="490.31" r="2.1" fill="#b4c6a0" fill-opacity="0.42"/>
<circle cx="218.03" cy="489.49" r="2.1" fill="#b4c6a0" fill-opacity="0.42"/>
<circle cx="221.31" cy="489.38" r="2.1" fill="#b4c6a0" fill-opacity="0.42"/>
<circle cx="219.67" cy="488.54" r="2.1" fill="#b4c6a0" fill-opacity="0.42"/>
<circle cx="216.10" cy="486.93" r="2.1" fill="#b4c6a0" fill-opacity="0.42"/>
<circle cx="217.99" cy="486.19" r="2.1" fill="#b4c6a0" fill-opacity="0.42"/>
<circle cx="220.57" cy="486.11" r="2.1" fill="#b4c6a0" fill-opacity="0.42"/>
<circle cx="217.19" cy="486.07" r="2.1" fill="#b4c6a0" fill-opacity="0.42"/>
<circle cx="213.22" cy="485.35" r="2.1" fill="#b4c6a0" fill-opacity="0.42"/>
<circle cx="216.92" cy="484.42" r="2.1" fill="#b4c6a0" fill-opacity="0.42"/>
<circle cx="219.72" cy="484.10" r="2.1" fill="#b4c6a0" fill-opacity="0.42"/>
<circle cx="218.30" cy="483.86" r="2.1" fill="#b4c6a0" fill-opacity="0.42"/>
<circle cx="220.21" cy="482.35" r="2.1" fill="#b4c6a0" fill-opacity="0.42"/>
<circle cx="219.46" cy="482.06" r="2.1" fill="#b4c6a0" fill-opacity="0.42"/>
<circle cx="218.45" cy="481.90" r="2.1" fill="#b4c6a0" fill-opacity="0.42"/>
<circle cx="219.32" cy="481.22" r="2.1" fill="#b4c6a0" fill-opacity="0.42"/>
<circle cx="215.64" cy="481.07" r="2.1" fill="#b4c6a0" fill-opacity="0.42"/>
<circle cx="215.23" cy="480.50" r="2.1" fill="#b4c6a0" fill-opacity="0.42"/>
<circle cx="214.87" cy="480.17" r="2.1" fill="#b4c6a0" fill-opacity="0.42"/>
<circle cx="217.12" cy="478.48" r="2.1" fill="#b4c6a0" fill-opacity="0.42"/>
<circle cx="217.10" cy="477.58" r="2.1" fill="#b4c6a0" fill-opacity="0.42"/>
<circle cx="216.14" cy="477.33" r="2.1" fill="#b4c6a0" fill-opacity="0.42"/>
<circle cx="219.21" cy="474.58" r="2.1" fill="#b4c6a0" fill-opacity="0.42"/>
<circle cx="216.17" cy="473.49" r="2.1" fill="#b4c6a0" fill-opacity="0.42"/>
<circle cx="215.38" cy="473.09" r="2.1" fill="#b4c6a0" fill-opacity="0.42"/>
<circle cx="217.37" cy="472.47" r="2.1" fill="#b4c6a0" fill-opacity="0.42"/>
<circle cx="216.98" cy="472.19" r="2.1" fill="#b4c6a0" fill-opacity="0.42"/>
<circle cx="215.40" cy="471.87" r="2.1" fill="#b4c6a0" fill-opacity="0.42"/>
<circle cx="217.37" cy="471.66" r="2.1" fill="#b4c6a0" fill-opacity="0.42"/>
<circle cx="217.42" cy="469.68" r="2.1" fill="#b4c6a0" fill-opacity="0.42"/>
<circle cx="218.88" cy="465.15" r="2.1" fill="#b4c6a0" fill-opacity="0.42"/>
<circle cx="218.04" cy="463.24" r="2.1" fill="#b4c6a0" fill-opacity="0.42"/>
<circle cx="216.96" cy="459.33" r="2.1" fill="#b4c6a0" fill-opacity="0.42"/>
<circle cx="218.61" cy="455.89" r="2.1" fill="#b4c6a0" fill-opacity="0.42"/>
<circle cx="218.31" cy="453.90" r="2.1" fill="#b4c6a0" fill-opacity="0.42"/>
<circle cx="218.33" cy="451.26" r="2.1" fill="#b4c6a0" fill-opacity="0.42"/>
<circle cx="217.40" cy="450.35" r="2.1" fill="#b4c6a0" fill-opacity="0.42"/>
<circle cx="217.19" cy="447.45" r="2.1" fill="#b4c6a0" fill-opacity="0.42"/>
<circle cx="217.78" cy="427.60" r="2.1" fill="#b4c6a0" fill-opacity="0.42"/>
<circle cx="217.74" cy="408.96" r="2.1" fill="#b4c6a0" fill-opacity="0.42"/>
<circle cx="246.95" cy="507.98" r="2.1" fill="#9fc0d0" fill-opacity="0.42"/>
<circle cx="245.27" cy="506.98" r="2.1" fill="#9fc0d0" fill-opacity="0.42"/>
<circle cx="245.08" cy="506.66" r="2.1" fill="#9fc0d0" fill-opacity="0.42"/>
<circle cx="243.89" cy="504.84" r="2.1" fill="#9fc0d0" fill-opacity="0.42"/>
<circle cx="249.18" cy="503.56" r="2.1" fill="#9fc0d0" fill-opacity="0.42"/>
<circle cx="248.11" cy="502.87" r="2.1" fill="#9fc0d0" fill-opacity="0.42"/>
<circle cx="248.32" cy="502.37" r="2.1" fill="#9fc0d0" fill-opacity="0.42"/>
<circle cx="245.65" cy="501.80" r="2.1" fill="#9fc0d0" fill-opacity="0.42"/>
<circle cx="241.59" cy="501.75" r="2.1" fill="#9fc0d0" fill-opacity="0.42"/>
<circle cx="241.55" cy="500.43" r="2.1" fill="#9fc0d0" fill-opacity="0.42"/>
<circle cx="241.34" cy="500.39" r="2.1" fill="#9fc0d0" fill-opacity="0.42"/>
<circle cx="250.09" cy="500.07" r="2.1" fill="#9fc0d0" fill-opacity="0.42"/>
<circle cx="241.04" cy="498.63" r="2.1" fill="#9fc0d0" fill-opacity="0.42"/>
<circle cx="245.91" cy="497.86" r="2.1" fill="#9fc0d0" fill-opacity="0.42"/>
<circle cx="247.89" cy="497.48" r="2.1" fill="#9fc0d0" fill-opacity="0.42"/>
<circle cx="249.26" cy="497.47" r="2.1" fill="#9fc0d0" fill-opacity="0.42"/>
<circle cx="245.79" cy="496.90" r="2.1" fill="#9fc0d0" fill-opacity="0.42"/>
<circle cx="247.36" cy="496.35" r="2.1" fill="#9fc0d0" fill-opacity="0.42"/>
<circle cx="244.21" cy="496.14" r="2.1" fill="#9fc0d0" fill-opacity="0.42"/>
<circle cx="249.66" cy="496.01" r="2.1" fill="#9fc0d0" fill-opacity="0.42"/>
<circle cx="240.47" cy="495.89" r="2.1" fill="#9fc0d0" fill-opacity="0.42"/>
<circle cx="241.34" cy="495.80" r="2.1" fill="#9fc0d0" fill-opacity="0.42"/>
<circle cx="243.20" cy="495.70" r="2.1" fill="#9fc0d0" fill-opacity="0.42"/>
<circle cx="246.96" cy="495.27" r="2.1" fill="#9fc0d0" fill-opacity="0.42"/>
<circle cx="243.18" cy="495.21" r="2.1" fill="#9fc0d0" fill-opacity="0.42"/>
<circle cx="240.14" cy="495.21" r="2.1" fill="#9fc0d0" fill-opacity="0.42"/>
<circle cx="250.23" cy="495.05" r="2.1" fill="#9fc0d0" fill-opacity="0.42"/>
<circle cx="240.25" cy="494.67" r="2.1" fill="#9fc0d0" fill-opacity="0.42"/>
<circle cx="242.15" cy="494.63" r="2.1" fill="#9fc0d0" fill-opacity="0.42"/>
<circle cx="251.15" cy="494.06" r="2.1" fill="#9fc0d0" fill-opacity="0.42"/>
<circle cx="248.77" cy="493.52" r="2.1" fill="#9fc0d0" fill-opacity="0.42"/>
<circle cx="247.18" cy="493.26" r="2.1" fill="#9fc0d0" fill-opacity="0.42"/>
<circle cx="248.36" cy="493.22" r="2.1" fill="#9fc0d0" fill-opacity="0.42"/>
<circle cx="242.75" cy="493.18" r="2.1" fill="#9fc0d0" fill-opacity="0.42"/>
<circle cx="248.24" cy="493.17" r="2.1" fill="#9fc0d0" fill-opacity="0.42"/>
<circle cx="243.44" cy="493.06" r="2.1" fill="#9fc0d0" fill-opacity="0.42"/>
<circle cx="243.80" cy="491.76" r="2.1" fill="#9fc0d0" fill-opacity="0.42"/>
<circle cx="247.28" cy="491.65" r="2.1" fill="#9fc0d0" fill-opacity="0.42"/>
<circle cx="245.07" cy="491.59" r="2.1" fill="#9fc0d0" fill-opacity="0.42"/>
<circle cx="251.34" cy="491.58" r="2.1" fill="#9fc0d0" fill-opacity="0.42"/>
<circle cx="242.33" cy="491.48" r="2.1" fill="#9fc0d0" fill-opacity="0.42"/>
<circle cx="241.57" cy="490.74" r="2.1" fill="#9fc0d0" fill-opacity="0.42"/>
<circle cx="248.86" cy="490.61" r="2.1" fill="#9fc0d0" fill-opacity="0.42"/>
<circle cx="238.80" cy="490.47" r="2.1" fill="#9fc0d0" fill-opacity="0.42"/>
<circle cx="240.86" cy="490.03" r="2.1" fill="#9fc0d0" fill-opacity="0.42"/>
<circle cx="249.24" cy="489.43" r="2.1" fill="#9fc0d0" fill-opacity="0.42"/>
<circle cx="238.60" cy="489.37" r="2.1" fill="#9fc0d0" fill-opacity="0.42"/>
<circle cx="239.65" cy="489.03" r="2.1" fill="#9fc0d0" fill-opacity="0.42"/>
<circle cx="248.60" cy="488.48" r="2.1" fill="#9fc0d0" fill-opacity="0.42"/>
<circle cx="243.77" cy="488.41" r="2.1" fill="#9fc0d0" fill-opacity="0.42"/>
<circle cx="238.61" cy="488.29" r="2.1" fill="#9fc0d0" fill-opacity="0.42"/>
<circle cx="240.18" cy="488.24" r="2.1" fill="#9fc0d0" fill-opacity="0.42"/>
<circle cx="248.90" cy="488.12" r="2.1" fill="#9fc0d0" fill-opacity="0.42"/>
<circle cx="243.37" cy="488.09" r="2.1" fill="#9fc0d0" fill-opacity="0.42"/>
<circle cx="247.59" cy="487.86" r="2.1" fill="#9fc0d0" fill-opacity="0.42"/>
<circle cx="251.53" cy="487.53" r="2.1" fill="#9fc0d0" fill-opacity="0.42"/>
<circle cx="252.92" cy="487.42" r="2.1" fill="#9fc0d0" fill-opacity="0.42"/>
<circle cx="248.85" cy="487.14" r="2.1" fill="#9fc0d0" fill-opacity="0.42"/>
<circle cx="243.38" cy="486.89" r="2.1" fill="#9fc0d0" fill-opacity="0.42"/>
<circle cx="247.89" cy="486.25" r="2.1" fill="#9fc0d0" fill-opacity="0.42"/>
<circle cx="251.93" cy="486.23" r="2.1" fill="#9fc0d0" fill-opacity="0.42"/>
<circle cx="250.70" cy="485.95" r="2.1" fill="#9fc0d0" fill-opacity="0.42"/>
<circle cx="245.28" cy="485.76" r="2.1" fill="#9fc0d0" fill-opacity="0.42"/>
<circle cx="251.96" cy="484.72" r="2.1" fill="#9fc0d0" fill-opacity="0.42"/>
<circle cx="251.58" cy="484.35" r="2.1" fill="#9fc0d0" fill-opacity="0.42"/>
<circle cx="244.13" cy="484.34" r="2.1" fill="#9fc0d0" fill-opacity="0.42"/>
<circle cx="246.01" cy="483.15" r="2.1" fill="#9fc0d0" fill-opacity="0.42"/>
<circle cx="244.16" cy="482.89" r="2.1" fill="#9fc0d0" fill-opacity="0.42"/>
<circle cx="240.86" cy="482.57" r="2.1" fill="#9fc0d0" fill-opacity="0.42"/>
<circle cx="251.78" cy="482.13" r="2.1" fill="#9fc0d0" fill-opacity="0.42"/>
<circle cx="251.17" cy="482.10" r="2.1" fill="#9fc0d0" fill-opacity="0.42"/>
<circle cx="239.73" cy="481.87" r="2.1" fill="#9fc0d0" fill-opacity="0.42"/>
<circle cx="240.83" cy="481.83" r="2.1" fill="#9fc0d0" fill-opacity="0.42"/>
<circle cx="250.01" cy="481.78" r="2.1" fill="#9fc0d0" fill-opacity="0.42"/>
<circle cx="238.62" cy="481.71" r="2.1" fill="#9fc0d0" fill-opacity="0.42"/>
<circle cx="242.07" cy="481.52" r="2.1" fill="#9fc0d0" fill-opacity="0.42"/>
<circle cx="246.03" cy="481.28" r="2.1" fill="#9fc0d0" fill-opacity="0.42"/>
<circle cx="247.49" cy="480.85" r="2.1" fill="#9fc0d0" fill-opacity="0.42"/>
<circle cx="250.84" cy="480.32" r="2.1" fill="#9fc0d0" fill-opacity="0.42"/>
<circle cx="242.15" cy="480.31" r="2.1" fill="#9fc0d0" fill-opacity="0.42"/>
<circle cx="242.42" cy="480.13" r="2.1" fill="#9fc0d0" fill-opacity="0.42"/>
<circle cx="240.22" cy="480.12" r="2.1" fill="#9fc0d0" fill-opacity="0.42"/>
<circle cx="242.28" cy="479.83" r="2.1" fill="#9fc0d0" fill-opacity="0.42"/>
<circle cx="248.46" cy="479.80" r="2.1" fill="#9fc0d0" fill-opacity="0.42"/>
<circle cx="243.67" cy="479.35" r="2.1" fill="#9fc0d0" fill-opacity="0.42"/>
<circle cx="247.09" cy="479.02" r="2.1" fill="#9fc0d0" fill-opacity="0.42"/>
<circle cx="247.93" cy="479.01" r="2.1" fill="#9fc0d0" fill-opacity="0.42"/>
<circle cx="246.93" cy="479.00" r="2.1" fill="#9fc0d0" fill-opacity="0.42"/>
<circle cx="244.22" cy="478.62" r="2.1" fill="#9fc0d0" fill-opacity="0.42"/>
<circle cx="245.47" cy="478.31" r="2.1" fill="#9fc0d0" fill-opacity="0.42"/>
<circle cx="250.66" cy="478.07" r="2.1" fill="#9fc0d0" fill-opacity="0.42"/>
<circle cx="243.45" cy="477.64" r="2.1" fill="#9fc0d0" fill-opacity="0.42"/>
<circle cx="241.24" cy="477.40" r="2.1" fill="#9fc0d0" fill-opacity="0.42"/>
<circle cx="241.57" cy="477.10" r="2.1" fill="#9fc0d0" fill-opacity="0.42"/>
<circle cx="242.57" cy="477.00" r="2.1" fill="#9fc0d0" fill-opacity="0.42"/>
<circle cx="240.77" cy="476.61" r="2.1" fill="#9fc0d0" fill-opacity="0.42"/>
<circle cx="252.10" cy="476.30" r="2.1" fill="#9fc0d0" fill-opacity="0.42"/>
<circle cx="240.67" cy="475.51" r="2.1" fill="#9fc0d0" fill-opacity="0.42"/>
<circle cx="249.25" cy="475.16" r="2.1" fill="#9fc0d0" fill-opacity="0.42"/>
<circle cx="246.52" cy="475.05" r="2.1" fill="#9fc0d0" fill-opacity="0.42"/>
<circle cx="252.01" cy="474.75" r="2.1" fill="#9fc0d0" fill-opacity="0.42"/>
<circle cx="242.48" cy="474.34" r="2.1" fill="#9fc0d0" fill-opacity="0.42"/>
<circle cx="250.36" cy="474.21" r="2.1" fill="#9fc0d0" fill-opacity="0.42"/>
<circle cx="240.70" cy="474.02" r="2.1" fill="#9fc0d0" fill-opacity="0.42"/>
<circle cx="242.42" cy="473.73" r="2.1" fill="#9fc0d0" fill-opacity="0.42"/>
<circle cx="245.04" cy="473.67" r="2.1" fill="#9fc0d0" fill-opacity="0.42"/>
<circle cx="250.02" cy="473.66" r="2.1" fill="#9fc0d0" fill-opacity="0.42"/>
<circle cx="246.97" cy="473.02" r="2.1" fill="#9fc0d0" fill-opacity="0.42"/>
<circle cx="248.82" cy="472.32" r="2.1" fill="#9fc0d0" fill-opacity="0.42"/>
<circle cx="245.44" cy="472.13" r="2.1" fill="#9fc0d0" fill-opacity="0.42"/>
<circle cx="240.30" cy="471.99" r="2.1" fill="#9fc0d0" fill-opacity="0.42"/>
<circle cx="241.07" cy="471.88" r="2.1" fill="#9fc0d0" fill-opacity="0.42"/>
<circle cx="243.14" cy="471.79" r="2.1" fill="#9fc0d0" fill-opacity="0.42"/>
<circle cx="241.27" cy="471.76" r="2.1" fill="#9fc0d0" fill-opacity="0.42"/>
<circle cx="250.70" cy="471.40" r="2.1" fill="#9fc0d0" fill-opacity="0.42"/>
<circle cx="245.85" cy="471.31" r="2.1" fill="#9fc0d0" fill-opacity="0.42"/>
<circle cx="249.60" cy="470.88" r="2.1" fill="#9fc0d0" fill-opacity="0.42"/>
<circle cx="250.88" cy="470.52" r="2.1" fill="#9fc0d0" fill-opacity="0.42"/>
<circle cx="249.99" cy="468.96" r="2.1" fill="#9fc0d0" fill-opacity="0.42"/>
<circle cx="241.50" cy="468.63" r="2.1" fill="#9fc0d0" fill-opacity="0.42"/>
<circle cx="240.87" cy="468.37" r="2.1" fill="#9fc0d0" fill-opacity="0.42"/>
<circle cx="247.24" cy="465.67" r="2.1" fill="#9fc0d0" fill-opacity="0.42"/>
<circle cx="244.27" cy="464.34" r="2.1" fill="#9fc0d0" fill-opacity="0.42"/>
<circle cx="245.31" cy="464.05" r="2.1" fill="#9fc0d0" fill-opacity="0.42"/>
<circle cx="248.32" cy="463.69" r="2.1" fill="#9fc0d0" fill-opacity="0.42"/>
<circle cx="246.53" cy="462.73" r="2.1" fill="#9fc0d0" fill-opacity="0.42"/>
<circle cx="247.58" cy="462.11" r="2.1" fill="#9fc0d0" fill-opacity="0.42"/>
<circle cx="246.77" cy="457.82" r="2.1" fill="#9fc0d0" fill-opacity="0.42"/>
<circle cx="245.33" cy="457.48" r="2.1" fill="#9fc0d0" fill-opacity="0.42"/>
<circle cx="244.71" cy="457.35" r="2.1" fill="#9fc0d0" fill-opacity="0.42"/>
<circle cx="246.30" cy="457.05" r="2.1" fill="#9fc0d0" fill-opacity="0.42"/>
<circle cx="247.51" cy="456.27" r="2.1" fill="#9fc0d0" fill-opacity="0.42"/>
<circle cx="247.17" cy="455.79" r="2.1" fill="#9fc0d0" fill-opacity="0.42"/>
<circle cx="247.10" cy="455.56" r="2.1" fill="#9fc0d0" fill-opacity="0.42"/>
<circle cx="244.53" cy="453.41" r="2.1" fill="#9fc0d0" fill-opacity="0.42"/>
<circle cx="244.59" cy="447.37" r="2.1" fill="#9fc0d0" fill-opacity="0.42"/>
<circle cx="246.00" cy="443.06" r="2.1" fill="#9fc0d0" fill-opacity="0.42"/>
<circle cx="245.49" cy="441.21" r="2.1" fill="#9fc0d0" fill-opacity="0.42"/>
<circle cx="246.81" cy="434.73" r="2.1" fill="#9fc0d0" fill-opacity="0.42"/>
<circle cx="244.60" cy="434.00" r="2.1" fill="#9fc0d0" fill-opacity="0.42"/>
<circle cx="246.83" cy="433.81" r="2.1" fill="#9fc0d0" fill-opacity="0.42"/>
<circle cx="246.82" cy="429.10" r="2.1" fill="#9fc0d0" fill-opacity="0.42"/>
<circle cx="244.05" cy="428.01" r="2.1" fill="#9fc0d0" fill-opacity="0.42"/>
<circle cx="244.56" cy="427.32" r="2.1" fill="#9fc0d0" fill-opacity="0.42"/>
<circle cx="246.25" cy="425.27" r="2.1" fill="#9fc0d0" fill-opacity="0.42"/>
<circle cx="245.68" cy="422.32" r="2.1" fill="#9fc0d0" fill-opacity="0.42"/>
<circle cx="244.64" cy="421.82" r="2.1" fill="#9fc0d0" fill-opacity="0.42"/>
<circle cx="246.38" cy="420.61" r="2.1" fill="#9fc0d0" fill-opacity="0.42"/>
<circle cx="246.07" cy="415.95" r="2.1" fill="#9fc0d0" fill-opacity="0.42"/>
<circle cx="245.51" cy="408.96" r="2.1" fill="#9fc0d0" fill-opacity="0.42"/>
<line x1="189.3" y1="477.0" x2="189.3" y2="501.9" stroke="#a83a47" stroke-width="2.2"/>
<circle cx="189.3" cy="493.2" r="3.4" fill="#fff" stroke="#a83a47" stroke-width="2"/>
<line x1="217.6" y1="482.0" x2="217.6" y2="505.2" stroke="#5e8a3e" stroke-width="2.2"/>
<circle cx="217.6" cy="496.0" r="3.4" fill="#fff" stroke="#5e8a3e" stroke-width="2"/>
<line x1="245.5" y1="468.3" x2="245.5" y2="491.0" stroke="#2f7190" stroke-width="2.2"/>
<circle cx="245.5" cy="483.5" r="3.4" fill="#fff" stroke="#2f7190" stroke-width="2"/>
<line x1="189.5" y1="387.0" x2="245.5" y2="387.0" stroke="#666" stroke-width="1.1" />
<polygon points="212.20,379.40 212.82,381.05 214.58,381.13 213.20,382.22 213.67,383.92 212.20,382.95 210.73,383.92 211.20,382.22 209.82,381.13 211.58,381.05" fill="#333"/>
<polygon points="217.50,379.40 218.12,381.05 219.88,381.13 218.50,382.22 218.97,383.92 217.50,382.95 216.03,383.92 216.50,382.22 215.12,381.13 216.88,381.05" fill="#333"/>
<polygon points="222.80,379.40 223.42,381.05 225.18,381.13 223.80,382.22 224.27,383.92 222.80,382.95 221.33,383.92 221.80,382.22 220.42,381.13 222.18,381.05" fill="#333"/>
<line x1="217.5" y1="399.6" x2="245.5" y2="399.6" stroke="#c4c4c4" stroke-width="1.5" />
<polygon points="226.50,392.10 227.12,393.75 228.88,393.83 227.50,394.92 227.97,396.62 226.50,395.65 225.03,396.62 225.50,394.92 224.12,393.83 225.88,393.75" fill="#333"/>
<polygon points="231.80,392.10 232.42,393.75 234.18,393.83 232.80,394.92 233.27,396.62 231.80,395.65 230.33,396.62 230.80,394.92 229.42,393.83 231.18,393.75" fill="#333"/>
<polygon points="237.10,392.10 237.72,393.75 239.48,393.83 238.10,394.92 238.57,396.62 237.10,395.65 235.63,396.62 236.10,394.92 234.72,393.83 236.48,393.75" fill="#333"/>
<line x1="189.5" y1="408.3" x2="217.5" y2="408.3" stroke="#666" stroke-width="1.1" />
<polygon points="198.20,401.10 198.82,402.75 200.58,402.83 199.20,403.92 199.67,405.62 198.20,404.65 196.73,405.62 197.20,403.92 195.82,402.83 197.58,402.75" fill="#333"/>
<polygon points="203.50,401.10 204.12,402.75 205.88,402.83 204.50,403.92 204.97,405.62 203.50,404.65 202.03,405.62 202.50,403.92 201.12,402.83 202.88,402.75" fill="#333"/>
<polygon points="208.80,401.10 209.42,402.75 211.18,402.83 209.80,403.92 210.27,405.62 208.80,404.65 207.33,405.62 207.80,403.92 206.42,402.83 208.18,402.75" fill="#333"/>
<line x1="316.4" y1="404.2" x2="316.4" y2="521.4" stroke="#555" stroke-width="1" />
<line x1="313.2" y1="404.00000000000006" x2="316.4" y2="404.00000000000006" stroke="#555" stroke-width="1" />
<text x="309.5" y="407.1000000000001" font-size="8.7" text-anchor="end" fill="#444444" font-weight="normal" textLength="13.1" lengthAdjust="spacingAndGlyphs" >1.0</text>
<line x1="313.2" y1="433.3" x2="316.4" y2="433.3" stroke="#555" stroke-width="1" />
<text x="309.5" y="436.40000000000003" font-size="8.7" text-anchor="end" fill="#444444" font-weight="normal" textLength="13.1" lengthAdjust="spacingAndGlyphs" >0.8</text>
<line x1="313.2" y1="462.6" x2="316.4" y2="462.6" stroke="#555" stroke-width="1" />
<text x="309.5" y="465.70000000000005" font-size="8.7" text-anchor="end" fill="#444444" font-weight="normal" textLength="13.1" lengthAdjust="spacingAndGlyphs" >0.6</text>
<line x1="313.2" y1="491.90000000000003" x2="316.4" y2="491.90000000000003" stroke="#555" stroke-width="1" />
<text x="309.5" y="495.00000000000006" font-size="8.7" text-anchor="end" fill="#444444" font-weight="normal" textLength="13.1" lengthAdjust="spacingAndGlyphs" >0.4</text>
<line x1="313.2" y1="521.2" x2="316.4" y2="521.2" stroke="#555" stroke-width="1" />
<text x="309.5" y="524.3000000000001" font-size="8.7" text-anchor="end" fill="#444444" font-weight="normal" textLength="13.1" lengthAdjust="spacingAndGlyphs" >0.2</text>
<line x1="325.8" y1="521.6" x2="473.2" y2="521.6" stroke="#555" stroke-width="1" />
<line x1="326.425" y1="521.6" x2="326.425" y2="524.8" stroke="#555" stroke-width="1" />
<text x="325.625" y="535.7" font-size="8.7" text-anchor="middle" fill="#444444" font-weight="normal" textLength="8.3" lengthAdjust="spacingAndGlyphs" >−2</text>
<line x1="369.6" y1="521.6" x2="369.6" y2="524.8" stroke="#555" stroke-width="1" />
<text x="369.6" y="535.7" font-size="8.7" text-anchor="middle" fill="#444444" font-weight="normal" textLength="4.5" lengthAdjust="spacingAndGlyphs" >4</text>
<line x1="404.14000000000004" y1="521.6" x2="404.14000000000004" y2="524.8" stroke="#555" stroke-width="1" />
<text x="404.14000000000004" y="535.7" font-size="8.7" text-anchor="middle" fill="#444444" font-weight="normal" textLength="4.5" lengthAdjust="spacingAndGlyphs" >8</text>
<line x1="438.68" y1="521.6" x2="438.68" y2="524.8" stroke="#555" stroke-width="1" />
<text x="438.68" y="535.7" font-size="8.7" text-anchor="middle" fill="#444444" font-weight="normal" textLength="8.6" lengthAdjust="spacingAndGlyphs" >12</text>
<line x1="473.22" y1="521.6" x2="473.22" y2="524.8" stroke="#555" stroke-width="1" />
<text x="473.22" y="535.7" font-size="8.7" text-anchor="middle" fill="#444444" font-weight="normal" textLength="8.6" lengthAdjust="spacingAndGlyphs" >16</text>
<text x="399.4" y="552.2" font-size="10.0" text-anchor="middle" fill="#444444" font-weight="normal" textLength="61.2" lengthAdjust="spacingAndGlyphs" >Trial position</text>
<text transform="translate(286.2,463) rotate(-90)" font-size="10.0" text-anchor="middle" fill="#444444" textLength="44.7" lengthAdjust="spacingAndGlyphs">Accuracy</text>
<text x="338.4" y="384.2" font-size="10.0" text-anchor="middle" fill="#444444" font-weight="normal" textLength="36.8" lengthAdjust="spacingAndGlyphs" >Change</text>
<text x="338.4" y="395.4" font-size="10.0" text-anchor="middle" fill="#444444" font-weight="normal" textLength="23.5" lengthAdjust="spacingAndGlyphs" >point</text>
<line x1="338.6" y1="403.6" x2="338.6" y2="521.4" stroke="#222" stroke-width="1.2" />
<line x1="325.5" y1="477.5" x2="425" y2="477.5" stroke="#333" stroke-width="1" stroke-dasharray="3.2,2.6"/>
<polyline points="326.43,514.50 335.06,510.80 343.70,497.30 352.33,482.70 360.97,470.30 369.60,458.20 378.24,448.40 386.87,441.20 395.50,440.60 404.14,437.60 412.78,438.90 421.41,434.60 430.05,436.30 438.68,437.20 447.32,435.00 455.95,433.70 464.59,436.70 473.22,438.00" fill="none" stroke="#b9d0dc" stroke-width="3.6" stroke-linejoin="round" stroke-linecap="round" stroke-opacity="0.7"/>
<polyline points="343.70,476.00 352.33,466.10 360.97,454.70 369.60,449.50 378.24,443.90 386.87,438.50 395.50,435.90 404.14,434.30 412.78,428.40 421.41,427.30 430.05,426.40 438.68,426.00 447.32,422.70 455.95,423.40 464.59,424.20 473.22,423.10" fill="none" stroke="#e2b5b8" stroke-width="3.6" stroke-linejoin="round" stroke-linecap="round" stroke-opacity="0.7"/>
<polyline points="343.70,476.90 352.33,453.60 360.97,443.20 369.60,433.30 378.24,430.40 386.87,424.50 395.50,424.70 404.14,422.20 412.78,420.20 421.41,421.60 430.05,418.50 438.68,419.90 447.32,416.20 455.95,415.50 464.59,415.30 473.22,416.60" fill="none" stroke="#c8d8b8" stroke-width="3.6" stroke-linejoin="round" stroke-linecap="round" stroke-opacity="0.7"/>
<polyline points="326.43,514.50 335.06,510.80 343.70,497.30 352.33,482.70 360.97,470.30 369.60,458.20 378.24,448.40 386.87,441.20 395.50,440.60 404.14,437.60 412.78,438.90 421.41,434.60 430.05,436.30 438.68,437.20 447.32,435.00 455.95,433.70 464.59,436.70 473.22,438.00" fill="none" stroke="#2f7190" stroke-width="2.3" stroke-linejoin="round" stroke-linecap="round" />
<polyline points="343.70,476.00 352.33,466.10 360.97,454.70 369.60,449.50 378.24,443.90 386.87,438.50 395.50,435.90 404.14,434.30 412.78,428.40 421.41,427.30 430.05,426.40 438.68,426.00 447.32,422.70 455.95,423.40 464.59,424.20 473.22,423.10" fill="none" stroke="#a83a47" stroke-width="2.3" stroke-linejoin="round" stroke-linecap="round" />
<polyline points="343.70,476.90 352.33,453.60 360.97,443.20 369.60,433.30 378.24,430.40 386.87,424.50 395.50,424.70 404.14,422.20 412.78,420.20 421.41,421.60 430.05,418.50 438.68,419.90 447.32,416.20 455.95,415.50 464.59,415.30 473.22,416.60" fill="none" stroke="#5e8a3e" stroke-width="2.3" stroke-linejoin="round" stroke-linecap="round" />
<text x="474.3" y="476.8" font-size="10.0" text-anchor="end" fill="#444444" font-weight="normal" textLength="46.6" lengthAdjust="spacingAndGlyphs" >Condition</text>
<text x="445.5" y="488.9" font-size="10.0" text-anchor="end" fill="#444444" font-weight="normal" textLength="11" lengthAdjust="spacingAndGlyphs" >S+</text>
<line x1="451" y1="485.4" x2="459.5" y2="485.4" stroke="#c0626b" stroke-width="1.5" />
<text x="445.5" y="501.1" font-size="10.0" text-anchor="end" fill="#444444" font-weight="normal" textLength="15" lengthAdjust="spacingAndGlyphs" >Ref</text>
<line x1="451" y1="497.6" x2="459.5" y2="497.6" stroke="#a3c08c" stroke-width="1.5" />
<text x="445.5" y="513.3" font-size="10.0" text-anchor="end" fill="#444444" font-weight="normal" textLength="11.5" lengthAdjust="spacingAndGlyphs" >V+</text>
<line x1="451" y1="509.79999999999995" x2="459.5" y2="509.79999999999995" stroke="#3b8aac" stroke-width="1.5" />
<line x1="532.5" y1="404.2" x2="532.5" y2="521.1" stroke="#555" stroke-width="1" />
<line x1="529.3" y1="404.19999999999993" x2="532.5" y2="404.19999999999993" stroke="#555" stroke-width="1" />
<text x="525.7" y="407.29999999999995" font-size="8.7" text-anchor="end" fill="#444444" font-weight="normal" textLength="13.1" lengthAdjust="spacingAndGlyphs" >0.5</text>
<line x1="529.3" y1="427.52" x2="532.5" y2="427.52" stroke="#555" stroke-width="1" />
<text x="525.7" y="430.62" font-size="8.7" text-anchor="end" fill="#444444" font-weight="normal" textLength="13.1" lengthAdjust="spacingAndGlyphs" >0.4</text>
<line x1="529.3" y1="450.84" x2="532.5" y2="450.84" stroke="#555" stroke-width="1" />
<text x="525.7" y="453.94" font-size="8.7" text-anchor="end" fill="#444444" font-weight="normal" textLength="13.1" lengthAdjust="spacingAndGlyphs" >0.3</text>
<line x1="529.3" y1="474.15999999999997" x2="532.5" y2="474.15999999999997" stroke="#555" stroke-width="1" />
<text x="525.7" y="477.26" font-size="8.7" text-anchor="end" fill="#444444" font-weight="normal" textLength="13.1" lengthAdjust="spacingAndGlyphs" >0.2</text>
<line x1="529.3" y1="497.47999999999996" x2="532.5" y2="497.47999999999996" stroke="#555" stroke-width="1" />
<text x="525.7" y="500.58" font-size="8.7" text-anchor="end" fill="#444444" font-weight="normal" textLength="13.1" lengthAdjust="spacingAndGlyphs" >0.1</text>
<line x1="529.3" y1="520.8" x2="532.5" y2="520.8" stroke="#555" stroke-width="1" />
<text x="525.7" y="523.9" font-size="8.7" text-anchor="end" fill="#444444" font-weight="normal" textLength="4.6" lengthAdjust="spacingAndGlyphs" >0</text>
<line x1="542.0" y1="521.4" x2="680.4" y2="521.4" stroke="#555" stroke-width="1" />
<line x1="542.0" y1="521.4" x2="542.0" y2="524.6" stroke="#555" stroke-width="1" />
<text x="541.2" y="535.7" font-size="8.7" text-anchor="middle" fill="#444444" font-weight="normal" textLength="8.3" lengthAdjust="spacingAndGlyphs" >−1</text>
<line x1="576.6" y1="521.4" x2="576.6" y2="524.6" stroke="#555" stroke-width="1" />
<text x="576.6" y="535.7" font-size="8.7" text-anchor="middle" fill="#444444" font-weight="normal" textLength="4.5" lengthAdjust="spacingAndGlyphs" >4</text>
<line x1="611.2" y1="521.4" x2="611.2" y2="524.6" stroke="#555" stroke-width="1" />
<text x="611.2" y="535.7" font-size="8.7" text-anchor="middle" fill="#444444" font-weight="normal" textLength="4.5" lengthAdjust="spacingAndGlyphs" >8</text>
<line x1="645.8000000000001" y1="521.4" x2="645.8000000000001" y2="524.6" stroke="#555" stroke-width="1" />
<text x="645.8000000000001" y="535.7" font-size="8.7" text-anchor="middle" fill="#444444" font-weight="normal" textLength="8.6" lengthAdjust="spacingAndGlyphs" >12</text>
<line x1="680.4000000000001" y1="521.4" x2="680.4000000000001" y2="524.6" stroke="#555" stroke-width="1" />
<text x="680.4000000000001" y="535.7" font-size="8.7" text-anchor="middle" fill="#444444" font-weight="normal" textLength="8.6" lengthAdjust="spacingAndGlyphs" >16</text>
<text x="611.3" y="552.2" font-size="10.0" text-anchor="middle" fill="#444444" font-weight="normal" textLength="60" lengthAdjust="spacingAndGlyphs" >Trial position</text>
<text transform="translate(503.0,464) rotate(-90)" font-size="10.0" text-anchor="middle" fill="#444444" textLength="52" lengthAdjust="spacingAndGlyphs">Switch rate</text>
<line x1="545.6" y1="404.2" x2="545.6" y2="521.1" stroke="#444" stroke-width="1.3" />
<polyline points="542.00,479.10 550.65,475.40 559.30,461.90 567.95,465.40 576.60,466.80 585.25,473.10 593.90,477.70 602.55,479.10 611.20,482.00 619.85,482.00 628.50,481.70 637.15,482.00 645.80,483.50 654.45,478.30 663.10,486.90 671.75,478.30 680.40,479.70" fill="none" stroke="#b9cde0" stroke-width="4.2" stroke-linejoin="round" stroke-linecap="round" stroke-opacity="0.8"/>
<polyline points="559.30,438.10 567.95,455.30 576.60,477.40 585.25,481.70 593.90,484.60 602.55,489.20 611.20,491.20 619.85,494.90 628.50,497.50 637.15,495.50 645.80,494.90 654.45,497.80 663.10,499.00 671.75,497.00 680.40,497.80" fill="none" stroke="#e6c3c3" stroke-width="3.8" stroke-linejoin="round" stroke-linecap="round" stroke-opacity="0.8"/>
<polyline points="559.30,438.70 567.95,461.00 576.60,478.90 585.25,484.00 593.90,489.80 602.55,496.40 611.20,496.10 619.85,496.40 628.50,498.40 637.15,498.40 645.80,497.00 654.45,502.70 663.10,502.10 671.75,502.10 680.40,501.80" fill="none" stroke="#d3dcc0" stroke-width="3.8" stroke-linejoin="round" stroke-linecap="round" stroke-opacity="0.8"/>
<polyline points="559.30,438.10 567.95,455.30 576.60,477.40 585.25,481.70 593.90,484.60 602.55,489.20 611.20,491.20 619.85,494.90 628.50,497.50 637.15,495.50 645.80,494.90 654.45,497.80 663.10,499.00 671.75,497.00 680.40,497.80" fill="none" stroke="#a83a47" stroke-width="2.3" stroke-linejoin="round" stroke-linecap="round" />
<polyline points="559.30,438.70 567.95,461.00 576.60,478.90 585.25,484.00 593.90,489.80 602.55,496.40 611.20,496.10 619.85,496.40 628.50,498.40 637.15,498.40 645.80,497.00 654.45,502.70 663.10,502.10 671.75,502.10 680.40,501.80" fill="none" stroke="#5e8a3e" stroke-width="2.3" stroke-linejoin="round" stroke-linecap="round" />
<polyline points="542.00,479.10 550.65,475.40 559.30,461.90 567.95,465.40 576.60,466.80 585.25,473.10 593.90,477.70 602.55,479.10 611.20,482.00 619.85,482.00 628.50,481.70 637.15,482.00 645.80,483.50 654.45,478.30 663.10,486.90 671.75,478.30 680.40,479.70" fill="none" stroke="#2f7190" stroke-width="2.3" stroke-linejoin="round" stroke-linecap="round" />
<text x="673.8" y="422.9" font-size="10.0" text-anchor="end" fill="#444444" font-weight="normal" textLength="46.5" lengthAdjust="spacingAndGlyphs" >Condition</text>
<text x="645" y="434.6" font-size="10.0" text-anchor="end" fill="#444444" font-weight="normal" textLength="11.5" lengthAdjust="spacingAndGlyphs" >S+</text>
<line x1="650" y1="431.3" x2="658.9" y2="431.3" stroke="#c0626b" stroke-width="1.5" />
<text x="645" y="446.7" font-size="10.0" text-anchor="end" fill="#444444" font-weight="normal" textLength="15.2" lengthAdjust="spacingAndGlyphs" >Ref</text>
<line x1="650" y1="443.4" x2="658.9" y2="443.4" stroke="#a3c08c" stroke-width="1.5" />
<text x="645" y="458.8" font-size="10.0" text-anchor="end" fill="#444444" font-weight="normal" textLength="12" lengthAdjust="spacingAndGlyphs" >V+</text>
<line x1="650" y1="455.5" x2="658.9" y2="455.5" stroke="#3b8aac" stroke-width="1.5" />
</svg></body></html>
